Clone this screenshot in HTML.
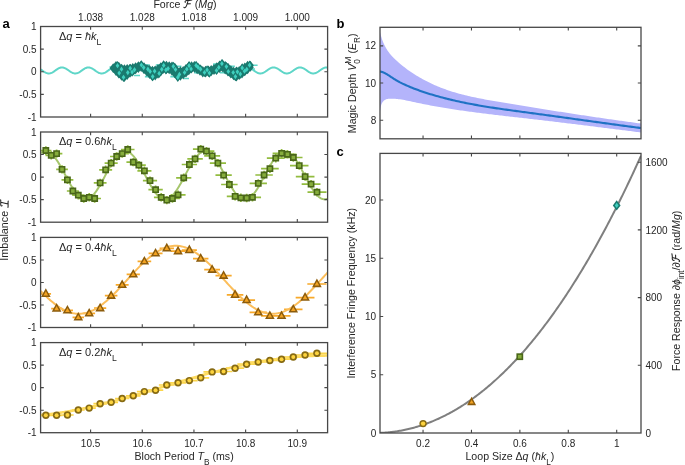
<!DOCTYPE html>
<html><head><meta charset="utf-8"><style>
html,body{margin:0;padding:0;background:#fff;}
body{width:685px;height:465px;overflow:hidden;}
svg{display:block;}
</style></head><body>
<svg width="685" height="465" viewBox="0 0 685 465" style="will-change:transform">
<defs><clipPath id="ca0"><rect x="40.6" y="26.5" width="287.0" height="90.5"/></clipPath><clipPath id="ca1"><rect x="40.6" y="132.0" width="287.0" height="90.19999999999999"/></clipPath><clipPath id="ca2"><rect x="40.6" y="237.4" width="287.0" height="90.1"/></clipPath><clipPath id="ca3"><rect x="40.6" y="342.6" width="287.0" height="90.09999999999997"/></clipPath><clipPath id="cb"><rect x="380.0" y="27.3" width="261.0" height="111.50000000000001"/></clipPath><clipPath id="cc"><rect x="380.0" y="153.4" width="261.0" height="279.6"/></clipPath></defs>
<rect width="685" height="465" fill="#fff"/>
<g clip-path="url(#ca0)"><path d="M40.60,69.35 L41.18,69.74 L41.75,70.14 L42.33,70.55 L42.90,70.96 L43.48,71.35 L44.05,71.74 L44.63,72.09 L45.20,72.42 L45.78,72.71 L46.35,72.96 L46.93,73.16 L47.50,73.31 L48.08,73.41 L48.65,73.45 L49.23,73.43 L49.80,73.37 L50.38,73.24 L50.95,73.07 L51.53,72.84 L52.10,72.57 L52.68,72.26 L53.25,71.92 L53.83,71.55 L54.40,71.16 L54.98,70.76 L55.55,70.35 L56.13,69.94 L56.70,69.54 L57.28,69.16 L57.85,68.81 L58.43,68.48 L59.00,68.19 L59.58,67.94 L60.16,67.74 L60.73,67.59 L61.31,67.49 L61.88,67.45 L62.46,67.47 L63.03,67.54 L63.61,67.66 L64.18,67.83 L64.76,68.06 L65.33,68.33 L65.91,68.64 L66.48,68.98 L67.06,69.35 L67.63,69.74 L68.21,70.14 L68.78,70.55 L69.36,70.96 L69.93,71.36 L70.51,71.74 L71.08,72.10 L71.66,72.42 L72.23,72.71 L72.81,72.96 L73.38,73.16 L73.96,73.31 L74.53,73.41 L75.11,73.45 L75.68,73.43 L76.26,73.36 L76.83,73.24 L77.41,73.06 L77.98,72.84 L78.56,72.57 L79.14,72.26 L79.71,71.92 L80.29,71.55 L80.86,71.16 L81.44,70.75 L82.01,70.34 L82.59,69.94 L83.16,69.54 L83.74,69.16 L84.31,68.80 L84.89,68.48 L85.46,68.19 L86.04,67.94 L86.61,67.74 L87.19,67.59 L87.76,67.49 L88.34,67.45 L88.91,67.47 L89.49,67.54 L90.06,67.66 L90.64,67.84 L91.21,68.06 L91.79,68.33 L92.36,68.64 L92.94,68.98 L93.51,69.35 L94.09,69.75 L94.66,70.15 L95.24,70.56 L95.81,70.97 L96.39,71.36 L96.96,71.74 L97.54,72.10 L98.12,72.43 L98.69,72.72 L99.27,72.96 L99.84,73.16 L100.42,73.31 L100.99,73.41 L101.57,73.45 L102.14,73.43 L102.72,73.36 L103.29,73.24 L103.87,73.06 L104.44,72.84 L105.02,72.57 L105.59,72.26 L106.17,71.91 L106.74,71.54 L107.32,71.15 L107.89,70.75 L108.47,70.34 L109.04,69.93 L109.62,69.53 L110.19,69.15 L110.77,68.80 L111.34,68.47 L111.92,68.18 L112.49,67.94 L113.07,67.74 L113.64,67.59 L114.22,67.49 L114.79,67.45 L115.37,67.47 L115.94,67.54 L116.52,67.66 L117.09,67.84 L117.67,68.07 L118.25,68.34 L118.82,68.65 L119.40,68.99 L119.97,69.36 L120.55,69.75 L121.12,70.15 L121.70,70.56 L122.27,70.97 L122.85,71.37 L123.42,71.75 L124.00,72.10 L124.57,72.43 L125.15,72.72 L125.72,72.96 L126.30,73.16 L126.87,73.31 L127.45,73.41 L128.02,73.45 L128.60,73.43 L129.17,73.36 L129.75,73.24 L130.32,73.06 L130.90,72.83 L131.47,72.56 L132.05,72.25 L132.62,71.91 L133.20,71.54 L133.77,71.15 L134.35,70.74 L134.92,70.33 L135.50,69.93 L136.07,69.53 L136.65,69.15 L137.23,68.79 L137.80,68.47 L138.38,68.18 L138.95,67.93 L139.53,67.73 L140.10,67.59 L140.68,67.49 L141.25,67.45 L141.83,67.47 L142.40,67.54 L142.98,67.66 L143.55,67.84 L144.13,68.07 L144.70,68.34 L145.28,68.65 L145.85,68.99 L146.43,69.36 L147.00,69.75 L147.58,70.16 L148.15,70.57 L148.73,70.98 L149.30,71.37 L149.88,71.75 L150.45,72.11 L151.03,72.43 L151.60,72.72 L152.18,72.97 L152.75,73.17 L153.33,73.31 L153.90,73.41 L154.48,73.45 L155.05,73.43 L155.63,73.36 L156.21,73.23 L156.78,73.06 L157.36,72.83 L157.93,72.56 L158.51,72.25 L159.08,71.90 L159.66,71.53 L160.23,71.14 L160.81,70.74 L161.38,70.33 L161.96,69.92 L162.53,69.53 L163.11,69.14 L163.68,68.79 L164.26,68.46 L164.83,68.18 L165.41,67.93 L165.98,67.73 L166.56,67.58 L167.13,67.49 L167.71,67.45 L168.28,67.47 L168.86,67.54 L169.43,67.67 L170.01,67.84 L170.58,68.07 L171.16,68.34 L171.73,68.65 L172.31,69.00 L172.88,69.37 L173.46,69.76 L174.03,70.16 L174.61,70.57 L175.19,70.98 L175.76,71.38 L176.34,71.76 L176.91,72.11 L177.49,72.44 L178.06,72.72 L178.64,72.97 L179.21,73.17 L179.79,73.32 L180.36,73.41 L180.94,73.45 L181.51,73.43 L182.09,73.36 L182.66,73.23 L183.24,73.05 L183.81,72.83 L184.39,72.56 L184.96,72.24 L185.54,71.90 L186.11,71.53 L186.69,71.14 L187.26,70.73 L187.84,70.32 L188.41,69.92 L188.99,69.52 L189.56,69.14 L190.14,68.79 L190.71,68.46 L191.29,68.17 L191.86,67.93 L192.44,67.73 L193.01,67.58 L193.59,67.49 L194.17,67.45 L194.74,67.47 L195.32,67.54 L195.89,67.67 L196.47,67.85 L197.04,68.07 L197.62,68.35 L198.19,68.66 L198.77,69.00 L199.34,69.37 L199.92,69.76 L200.49,70.17 L201.07,70.58 L201.64,70.98 L202.22,71.38 L202.79,71.76 L203.37,72.12 L203.94,72.44 L204.52,72.73 L205.09,72.97 L205.67,73.17 L206.24,73.32 L206.82,73.41 L207.39,73.45 L207.97,73.43 L208.54,73.36 L209.12,73.23 L209.69,73.05 L210.27,72.82 L210.84,72.55 L211.42,72.24 L211.99,71.90 L212.57,71.52 L213.15,71.13 L213.72,70.73 L214.30,70.32 L214.87,69.91 L215.45,69.52 L216.02,69.14 L216.60,68.78 L217.17,68.46 L217.75,68.17 L218.32,67.93 L218.90,67.73 L219.47,67.58 L220.05,67.49 L220.62,67.45 L221.20,67.47 L221.77,67.54 L222.35,67.67 L222.92,67.85 L223.50,68.08 L224.07,68.35 L224.65,68.66 L225.22,69.01 L225.80,69.38 L226.37,69.77 L226.95,70.17 L227.52,70.58 L228.10,70.99 L228.67,71.39 L229.25,71.77 L229.82,72.12 L230.40,72.44 L230.97,72.73 L231.55,72.98 L232.13,73.17 L232.70,73.32 L233.28,73.41 L233.85,73.45 L234.43,73.43 L235.00,73.36 L235.58,73.23 L236.15,73.05 L236.73,72.82 L237.30,72.55 L237.88,72.24 L238.45,71.89 L239.03,71.52 L239.60,71.13 L240.18,70.72 L240.75,70.31 L241.33,69.91 L241.90,69.51 L242.48,69.13 L243.05,68.78 L243.63,68.45 L244.20,68.17 L244.78,67.92 L245.35,67.73 L245.93,67.58 L246.50,67.49 L247.08,67.45 L247.65,67.47 L248.23,67.54 L248.80,67.67 L249.38,67.85 L249.95,68.08 L250.53,68.35 L251.11,68.67 L251.68,69.01 L252.26,69.38 L252.83,69.77 L253.41,70.18 L253.98,70.59 L254.56,70.99 L255.13,71.39 L255.71,71.77 L256.28,72.13 L256.86,72.45 L257.43,72.73 L258.01,72.98 L258.58,73.17 L259.16,73.32 L259.73,73.41 L260.31,73.45 L260.88,73.43 L261.46,73.36 L262.03,73.23 L262.61,73.05 L263.18,72.82 L263.76,72.54 L264.33,72.23 L264.91,71.89 L265.48,71.52 L266.06,71.12 L266.63,70.72 L267.21,70.31 L267.78,69.90 L268.36,69.51 L268.93,69.13 L269.51,68.77 L270.08,68.45 L270.66,68.16 L271.24,67.92 L271.81,67.72 L272.39,67.58 L272.96,67.49 L273.54,67.45 L274.11,67.47 L274.69,67.54 L275.26,67.67 L275.84,67.85 L276.41,68.08 L276.99,68.36 L277.56,68.67 L278.14,69.01 L278.71,69.39 L279.29,69.78 L279.86,70.18 L280.44,70.59 L281.01,71.00 L281.59,71.40 L282.16,71.77 L282.74,72.13 L283.31,72.45 L283.89,72.74 L284.46,72.98 L285.04,73.18 L285.61,73.32 L286.19,73.41 L286.76,73.45 L287.34,73.43 L287.91,73.35 L288.49,73.23 L289.06,73.04 L289.64,72.81 L290.22,72.54 L290.79,72.23 L291.37,71.88 L291.94,71.51 L292.52,71.12 L293.09,70.71 L293.67,70.30 L294.24,69.90 L294.82,69.50 L295.39,69.12 L295.97,68.77 L296.54,68.45 L297.12,68.16 L297.69,67.92 L298.27,67.72 L298.84,67.58 L299.42,67.49 L299.99,67.45 L300.57,67.47 L301.14,67.55 L301.72,67.68 L302.29,67.86 L302.87,68.09 L303.44,68.36 L304.02,68.67 L304.59,69.02 L305.17,69.39 L305.74,69.78 L306.32,70.19 L306.89,70.60 L307.47,71.00 L308.04,71.40 L308.62,71.78 L309.20,72.13 L309.77,72.46 L310.35,72.74 L310.92,72.98 L311.50,73.18 L312.07,73.32 L312.65,73.41 L313.22,73.45 L313.80,73.43 L314.37,73.35 L314.95,73.22 L315.52,73.04 L316.10,72.81 L316.67,72.54 L317.25,72.22 L317.82,71.88 L318.40,71.51 L318.97,71.11 L319.55,70.71 L320.12,70.30 L320.70,69.89 L321.27,69.50 L321.85,69.12 L322.42,68.76 L323.00,68.44 L323.57,68.16 L324.15,67.92 L324.72,67.72 L325.30,67.58 L325.87,67.49 L326.45,67.45 L327.02,67.47 L327.60,67.55" stroke="#5fd6c8" stroke-width="2" fill="none"/>
<path d="M143.90,65.00h6M155.80,65.00h6M144.90,76.60h6M170.30,76.60h6M175.50,66.30h6M213.10,64.10h6M194.10,72.80h6M228.90,66.30h6M219.80,72.80h6M251.60,65.20h6M249.00,69.00h6M109.50,67.00h6M134.00,75.50h6M183.00,78.50h6" stroke="#5fd6c8" stroke-width="1.6" fill="none"/>
<path d="M113.20,63.19L116.60,67.79L113.20,72.39L109.80,67.79ZM113.20,63.90L116.60,68.50L113.20,73.10L109.80,68.50ZM116.00,60.96L119.40,65.56L116.00,70.16L112.60,65.56ZM116.00,66.70L119.40,71.30L116.00,75.90L112.60,71.30ZM116.00,63.83L119.40,68.43L116.00,73.03L112.60,68.43ZM118.80,61.81L122.20,66.41L118.80,71.01L115.40,66.41ZM118.80,69.31L122.20,73.91L118.80,78.51L115.40,73.91ZM118.80,65.56L122.20,70.16L118.80,74.76L115.40,70.16ZM121.60,63.69L125.00,68.29L121.60,72.89L118.20,68.29ZM121.60,71.53L125.00,76.13L121.60,80.73L118.20,76.13ZM121.60,67.61L125.00,72.21L121.60,76.81L118.20,72.21ZM124.40,64.15L127.80,68.75L124.40,73.35L121.00,68.75ZM124.40,72.70L127.80,77.30L124.40,81.90L121.00,77.30ZM124.40,68.42L127.80,73.02L124.40,77.62L121.00,73.02ZM127.20,63.93L130.60,68.53L127.20,73.13L123.80,68.53ZM127.20,70.68L130.60,75.28L127.20,79.88L123.80,75.28ZM127.20,67.31L130.60,71.91L127.20,76.51L123.80,71.91ZM130.00,63.71L133.40,68.31L130.00,72.91L126.60,68.31ZM130.00,68.67L133.40,73.27L130.00,77.87L126.60,73.27ZM132.80,62.98L136.20,67.58L132.80,72.18L129.40,67.58ZM132.80,66.87L136.20,71.47L132.80,76.07L129.40,71.47ZM135.60,62.24L139.00,66.84L135.60,71.44L132.20,66.84ZM135.60,65.08L139.00,69.68L135.60,74.28L132.20,69.68ZM138.40,61.27L141.80,65.87L138.40,70.47L135.00,65.87ZM138.40,63.77L141.80,68.37L138.40,72.97L135.00,68.37ZM141.20,60.20L144.60,64.80L141.20,69.40L137.80,64.80ZM141.20,62.70L144.60,67.30L141.20,71.90L137.80,67.30ZM144.00,62.18L147.40,66.78L144.00,71.38L140.60,66.78ZM144.00,64.97L147.40,69.57L144.00,74.17L140.60,69.57ZM146.80,64.16L150.20,68.76L146.80,73.36L143.40,68.76ZM146.80,67.24L150.20,71.84L146.80,76.44L143.40,71.84ZM149.60,64.97L153.00,69.57L149.60,74.17L146.20,69.57ZM149.60,69.69L153.00,74.29L149.60,78.89L146.20,74.29ZM152.40,65.69L155.80,70.29L152.40,74.89L149.00,70.29ZM152.40,72.16L155.80,76.76L152.40,81.36L149.00,76.76ZM152.40,68.92L155.80,73.52L152.40,78.12L149.00,73.52ZM155.20,65.49L158.60,70.09L155.20,74.69L151.80,70.09ZM155.20,71.21L158.60,75.81L155.20,80.41L151.80,75.81ZM155.20,68.35L158.60,72.95L155.20,77.55L151.80,72.95ZM158.00,64.06L161.40,68.66L158.00,73.26L154.60,68.66ZM158.00,69.52L161.40,74.12L158.00,78.72L154.60,74.12ZM158.00,66.79L161.40,71.39L158.00,75.99L154.60,71.39ZM160.80,62.14L164.20,66.74L160.80,71.34L157.40,66.74ZM160.80,67.04L164.20,71.64L160.80,76.24L157.40,71.64ZM163.60,60.23L167.00,64.83L163.60,69.43L160.20,64.83ZM163.60,64.52L167.00,69.12L163.60,73.72L160.20,69.12ZM166.40,60.71L169.80,65.31L166.40,69.91L163.00,65.31ZM166.40,64.76L169.80,69.36L166.40,73.96L163.00,69.36ZM169.20,61.19L172.60,65.79L169.20,70.39L165.80,65.79ZM169.20,65.00L172.60,69.60L169.20,74.20L165.80,69.60ZM172.00,61.40L175.40,66.00L172.00,70.60L168.60,66.00ZM172.00,66.56L175.40,71.16L172.00,75.76L168.60,71.16ZM172.00,63.98L175.40,68.58L172.00,73.18L168.60,68.58ZM174.80,62.74L178.20,67.34L174.80,71.94L171.40,67.34ZM174.80,69.12L178.20,73.72L174.80,78.32L171.40,73.72ZM174.80,65.93L178.20,70.53L174.80,75.13L171.40,70.53ZM177.60,66.58L181.00,71.18L177.60,75.78L174.20,71.18ZM177.60,71.69L181.00,76.29L177.60,80.89L174.20,76.29ZM177.60,69.13L181.00,73.73L177.60,78.33L174.20,73.73ZM180.40,66.35L183.80,70.95L180.40,75.55L177.00,70.95ZM180.40,71.62L183.80,76.22L180.40,80.82L177.00,76.22ZM180.40,68.98L183.80,73.58L180.40,78.18L177.00,73.58ZM183.20,66.11L186.60,70.71L183.20,75.31L179.80,70.71ZM183.20,70.08L186.60,74.68L183.20,79.28L179.80,74.68ZM186.00,63.99L189.40,68.59L186.00,73.19L182.60,68.59ZM186.00,68.32L189.40,72.92L186.00,77.52L182.60,72.92ZM188.80,61.81L192.20,66.41L188.80,71.01L185.40,66.41ZM188.80,66.14L192.20,70.74L188.80,75.34L185.40,70.74ZM191.60,61.23L195.00,65.83L191.60,70.43L188.20,65.83ZM191.60,63.97L195.00,68.57L191.60,73.17L188.20,68.57ZM194.40,60.91L197.80,65.51L194.40,70.11L191.00,65.51ZM194.40,63.52L197.80,68.12L194.40,72.72L191.00,68.12ZM197.20,62.70L200.60,67.30L197.20,71.90L193.80,67.30ZM197.20,65.08L200.60,69.68L197.20,74.28L193.80,69.68ZM200.00,64.57L203.40,69.17L200.00,73.77L196.60,69.17ZM200.00,66.64L203.40,71.24L200.00,75.84L196.60,71.24ZM202.80,66.04L206.20,70.64L202.80,75.24L199.40,70.64ZM202.80,68.20L206.20,72.80L202.80,77.40L199.40,72.80ZM205.60,65.73L209.00,70.33L205.60,74.93L202.20,70.33ZM205.60,68.32L209.00,72.92L205.60,77.52L202.20,72.92ZM208.40,65.39L211.80,69.99L208.40,74.59L205.00,69.99ZM208.40,67.76L211.80,72.36L208.40,76.96L205.00,72.36ZM211.20,65.02L214.60,69.62L211.20,74.22L207.80,69.62ZM211.20,67.01L214.60,71.61L211.20,76.21L207.80,71.61ZM214.00,64.09L217.40,68.69L214.00,73.29L210.60,68.69ZM214.00,65.90L217.40,70.50L214.00,75.10L210.60,70.50ZM216.80,62.27L220.20,66.87L216.80,71.47L213.40,66.87ZM216.80,64.80L220.20,69.40L216.80,74.00L213.40,69.40ZM219.60,60.46L223.00,65.06L219.60,69.66L216.20,65.06ZM219.60,63.72L223.00,68.32L219.60,72.92L216.20,68.32ZM222.40,59.15L225.80,63.75L222.40,68.35L219.00,63.75ZM222.40,63.10L225.80,67.70L222.40,72.30L219.00,67.70ZM225.20,60.89L228.60,65.49L225.20,70.09L221.80,65.49ZM225.20,65.19L228.60,69.79L225.20,74.39L221.80,69.79ZM228.00,62.81L231.40,67.41L228.00,72.01L224.60,67.41ZM228.00,67.28L231.40,71.88L228.00,76.48L224.60,71.88ZM230.80,65.24L234.20,69.84L230.80,74.44L227.40,69.84ZM230.80,69.29L234.20,73.89L230.80,78.49L227.40,73.89ZM233.60,66.69L237.00,71.29L233.60,75.89L230.20,71.29ZM233.60,71.15L237.00,75.75L233.60,80.35L230.20,75.75ZM236.40,66.39L239.80,70.99L236.40,75.59L233.00,70.99ZM236.40,72.28L239.80,76.88L236.40,81.48L233.00,76.88ZM236.40,69.34L239.80,73.94L236.40,78.54L233.00,73.94ZM239.20,66.04L242.60,70.64L239.20,75.24L235.80,70.64ZM239.20,70.79L242.60,75.39L239.20,79.99L235.80,75.39ZM242.00,64.30L245.40,68.90L242.00,73.50L238.60,68.90ZM242.00,69.25L245.40,73.85L242.00,78.45L238.60,73.85ZM244.80,62.57L248.20,67.17L244.80,71.77L241.40,67.17ZM244.80,67.09L248.20,71.69L244.80,76.29L241.40,71.69ZM247.60,60.84L251.00,65.44L247.60,70.04L244.20,65.44ZM247.60,64.94L251.00,69.54L247.60,74.14L244.20,69.54ZM250.40,60.72L253.80,65.32L250.40,69.92L247.00,65.32ZM250.40,62.62L253.80,67.22L250.40,71.82L247.00,67.22Z" fill="#1a7a6f"/>
<path d="M117.50,61.10L120.90,65.70L117.50,70.30L114.10,65.70ZM119.20,68.50L122.60,73.10L119.20,77.70L115.80,73.10ZM121.50,64.60L124.90,69.20L121.50,73.80L118.10,69.20ZM123.50,72.70L126.90,77.30L123.50,81.90L120.10,77.30ZM127.80,68.00L131.20,72.60L127.80,77.20L124.40,72.60ZM130.20,63.70L133.60,68.30L130.20,72.90L126.80,68.30ZM132.10,67.50L135.50,72.10L132.10,76.70L128.70,72.10ZM134.50,65.10L137.90,69.70L134.50,74.30L131.10,69.70ZM141.40,60.40L144.80,65.00L141.40,69.60L138.00,65.00ZM143.70,63.00L147.10,67.60L143.70,72.20L140.30,67.60ZM147.90,64.60L151.30,69.20L147.90,73.80L144.50,69.20ZM150.10,66.90L153.50,71.50L150.10,76.10L146.70,71.50ZM152.70,72.00L156.10,76.60L152.70,81.20L149.30,76.60ZM154.60,66.60L158.00,71.20L154.60,75.80L151.20,71.20ZM159.20,68.80L162.60,73.40L159.20,78.00L155.80,73.40ZM161.80,64.70L165.20,69.30L161.80,73.90L158.40,69.30ZM163.70,60.80L167.10,65.40L163.70,70.00L160.30,65.40ZM165.90,65.30L169.30,69.90L165.90,74.50L162.50,69.90ZM168.10,64.00L171.50,68.60L168.10,73.20L164.70,68.60ZM173.30,61.70L176.70,66.30L173.30,70.90L169.90,66.30ZM175.50,64.90L178.90,69.50L175.50,74.10L172.10,69.50ZM177.80,72.70L181.20,77.30L177.80,81.90L174.40,77.30ZM179.40,69.80L182.80,74.40L179.40,79.00L176.00,74.40ZM184.60,67.90L188.00,72.50L184.60,77.10L181.20,72.50ZM186.80,64.60L190.20,69.20L186.80,73.80L183.40,69.20ZM189.10,61.10L192.50,65.70L189.10,70.30L185.70,65.70ZM191.10,64.40L194.50,69.00L191.10,73.60L187.70,69.00ZM196.10,60.80L199.50,65.40L196.10,70.00L192.70,65.40ZM198.10,62.70L201.50,67.30L198.10,71.90L194.70,67.30ZM200.60,64.60L204.00,69.20L200.60,73.80L197.20,69.20ZM204.50,67.90L207.90,72.50L204.50,77.10L201.10,72.50ZM207.10,65.30L210.50,69.90L207.10,74.50L203.70,69.90ZM209.40,68.50L212.80,73.10L209.40,77.70L206.00,73.10ZM216.50,65.90L219.90,70.50L216.50,75.10L213.10,70.50ZM218.80,62.80L222.20,67.40L218.80,72.00L215.40,67.40ZM221.90,59.10L225.30,63.70L221.90,68.30L218.50,63.70ZM226.40,62.00L229.80,66.60L226.40,71.20L223.00,66.60ZM228.30,66.90L231.70,71.50L228.30,76.10L224.90,71.50ZM233.20,67.90L236.60,72.50L233.20,77.10L229.80,72.50ZM235.40,72.00L238.80,76.60L235.40,81.20L232.00,76.60ZM237.40,67.20L240.80,71.80L237.40,76.40L234.00,71.80ZM240.30,69.50L243.70,74.10L240.30,78.70L236.90,74.10ZM242.20,63.30L245.60,67.90L242.20,72.50L238.80,67.90ZM244.50,66.60L247.90,71.20L244.50,75.80L241.10,71.20ZM246.80,64.70L250.20,69.30L246.80,73.90L243.40,69.30ZM249.60,60.60L253.00,65.20L249.60,69.80L246.20,65.20Z" fill="#1a7a6f"/>
<path d="M117.50,63.10L119.30,65.70L117.50,68.30L115.70,65.70ZM119.20,70.50L121.00,73.10L119.20,75.70L117.40,73.10ZM121.50,66.60L123.30,69.20L121.50,71.80L119.70,69.20ZM123.50,74.70L125.30,77.30L123.50,79.90L121.70,77.30ZM127.80,70.00L129.60,72.60L127.80,75.20L126.00,72.60ZM130.20,65.70L132.00,68.30L130.20,70.90L128.40,68.30ZM132.10,69.50L133.90,72.10L132.10,74.70L130.30,72.10ZM134.50,67.10L136.30,69.70L134.50,72.30L132.70,69.70ZM141.40,62.40L143.20,65.00L141.40,67.60L139.60,65.00ZM143.70,65.00L145.50,67.60L143.70,70.20L141.90,67.60ZM147.90,66.60L149.70,69.20L147.90,71.80L146.10,69.20ZM150.10,68.90L151.90,71.50L150.10,74.10L148.30,71.50ZM152.70,74.00L154.50,76.60L152.70,79.20L150.90,76.60ZM154.60,68.60L156.40,71.20L154.60,73.80L152.80,71.20ZM159.20,70.80L161.00,73.40L159.20,76.00L157.40,73.40ZM161.80,66.70L163.60,69.30L161.80,71.90L160.00,69.30ZM163.70,62.80L165.50,65.40L163.70,68.00L161.90,65.40ZM165.90,67.30L167.70,69.90L165.90,72.50L164.10,69.90ZM168.10,66.00L169.90,68.60L168.10,71.20L166.30,68.60ZM173.30,63.70L175.10,66.30L173.30,68.90L171.50,66.30ZM175.50,66.90L177.30,69.50L175.50,72.10L173.70,69.50ZM177.80,74.70L179.60,77.30L177.80,79.90L176.00,77.30ZM179.40,71.80L181.20,74.40L179.40,77.00L177.60,74.40ZM184.60,69.90L186.40,72.50L184.60,75.10L182.80,72.50ZM186.80,66.60L188.60,69.20L186.80,71.80L185.00,69.20ZM189.10,63.10L190.90,65.70L189.10,68.30L187.30,65.70ZM191.10,66.40L192.90,69.00L191.10,71.60L189.30,69.00ZM196.10,62.80L197.90,65.40L196.10,68.00L194.30,65.40ZM198.10,64.70L199.90,67.30L198.10,69.90L196.30,67.30ZM200.60,66.60L202.40,69.20L200.60,71.80L198.80,69.20ZM204.50,69.90L206.30,72.50L204.50,75.10L202.70,72.50ZM207.10,67.30L208.90,69.90L207.10,72.50L205.30,69.90ZM209.40,70.50L211.20,73.10L209.40,75.70L207.60,73.10ZM216.50,67.90L218.30,70.50L216.50,73.10L214.70,70.50ZM218.80,64.80L220.60,67.40L218.80,70.00L217.00,67.40ZM221.90,61.10L223.70,63.70L221.90,66.30L220.10,63.70ZM226.40,64.00L228.20,66.60L226.40,69.20L224.60,66.60ZM228.30,68.90L230.10,71.50L228.30,74.10L226.50,71.50ZM233.20,69.90L235.00,72.50L233.20,75.10L231.40,72.50ZM235.40,74.00L237.20,76.60L235.40,79.20L233.60,76.60ZM237.40,69.20L239.20,71.80L237.40,74.40L235.60,71.80ZM240.30,71.50L242.10,74.10L240.30,76.70L238.50,74.10ZM242.20,65.30L244.00,67.90L242.20,70.50L240.40,67.90ZM244.50,68.60L246.30,71.20L244.50,73.80L242.70,71.20ZM246.80,66.70L248.60,69.30L246.80,71.90L245.00,69.30ZM249.60,62.60L251.40,65.20L249.60,67.80L247.80,65.20Z" fill="#3fd0bf"/>
</g>
<g clip-path="url(#ca1)">
<path d="M40.22,150.50h11.22M45.83,146.30v8.40M45.53,155.40h11.38M51.22,151.20v8.40M50.84,153.60h11.53M56.61,149.40v8.40M56.17,169.40h11.69M62.02,165.20v8.40M61.51,179.90h11.84M67.43,175.70v8.40M66.86,191.00h12.00M72.86,186.80v8.40M72.22,195.20h12.15M78.30,191.00v8.40M77.59,198.50h12.31M83.75,194.30v8.40M82.97,197.30h12.47M89.21,193.10v8.40M88.36,198.50h12.62M94.68,194.30v8.40M93.77,182.90h12.78M100.16,178.70v8.40M99.18,169.80h12.94M105.65,165.60v8.40M104.61,163.10h13.10M111.16,158.90v8.40M110.04,156.50h13.26M116.67,152.30v8.40M115.49,153.60h13.41M122.20,149.40v8.40M120.95,149.50h13.57M127.73,145.30v8.40M126.42,162.10h13.73M133.28,157.90v8.40M131.90,165.20h13.89M138.84,161.00v8.40M137.39,170.80h14.05M144.41,166.60v8.40M142.89,180.60h14.21M150.00,176.40v8.40M148.41,189.70h14.37M155.59,185.50v8.40M153.93,197.30h14.53M161.20,193.10v8.40M159.47,200.10h14.69M166.81,195.90v8.40M165.01,198.50h14.85M172.44,194.30v8.40M170.57,194.80h15.02M178.08,190.60v8.40M176.14,177.80h15.18M183.73,173.60v8.40M181.73,164.50h15.34M189.40,160.30v8.40M187.32,158.90h15.50M195.07,154.70v8.40M192.92,149.10h15.67M200.76,144.90v8.40M198.54,151.20h15.83M206.46,147.00v8.40M204.17,155.80h15.99M212.17,151.60v8.40M209.81,163.10h16.16M217.89,158.90v8.40M215.46,175.20h16.32M223.62,171.00v8.40M221.12,184.50h16.49M229.37,180.30v8.40M226.80,196.40h16.65M235.12,192.20v8.40M232.48,197.80h16.82M240.89,193.60v8.40M238.18,198.00h16.98M246.67,193.80v8.40M243.89,197.30h17.15M252.47,193.10v8.40M249.61,183.40h17.32M258.27,179.20v8.40M255.35,175.00h17.48M264.09,170.80v8.40M261.09,168.70h17.65M269.92,164.50v8.40M266.85,158.20h17.82M275.76,154.00v8.40M272.62,153.30h17.99M281.61,149.10v8.40M278.40,154.30h18.15M287.48,150.10v8.40M284.20,157.50h18.32M293.36,153.30v8.40M290.00,165.60h18.49M299.25,161.40v8.40M295.82,176.60h18.66M305.15,172.40v8.40M301.65,184.10h18.83M311.07,179.90v8.40M307.50,192.20h19.00M316.99,188.00v8.40" stroke="#92bc3f" stroke-width="1.7" fill="none"/>
<path d="M40.60,153.06 L41.56,152.44 L42.52,151.95 L43.48,151.59 L44.44,151.37 L45.40,151.28 L46.36,151.34 L47.32,151.52 L48.28,151.85 L49.24,152.31 L50.20,152.90 L51.16,153.62 L52.12,154.46 L53.08,155.43 L54.04,156.50 L55.00,157.69 L55.96,158.97 L56.92,160.35 L57.88,161.81 L58.84,163.35 L59.80,164.96 L60.76,166.63 L61.72,168.35 L62.68,170.11 L63.64,171.90 L64.60,173.70 L65.56,175.52 L66.52,177.34 L67.48,179.14 L68.44,180.92 L69.40,182.67 L70.36,184.38 L71.32,186.04 L72.28,187.63 L73.24,189.16 L74.20,190.61 L75.16,191.96 L76.12,193.23 L77.07,194.39 L78.03,195.44 L78.99,196.38 L79.95,197.20 L80.91,197.89 L81.87,198.45 L82.83,198.88 L83.79,199.18 L84.75,199.34 L85.71,199.36 L86.67,199.25 L87.63,198.99 L88.59,198.61 L89.55,198.09 L90.51,197.44 L91.47,196.66 L92.43,195.76 L93.39,194.75 L94.35,193.62 L95.31,192.39 L96.27,191.06 L97.23,189.65 L98.19,188.15 L99.15,186.57 L100.11,184.93 L101.07,183.24 L102.03,181.50 L102.99,179.73 L103.95,177.93 L104.91,176.12 L105.87,174.30 L106.83,172.49 L107.79,170.70 L108.75,168.93 L109.71,167.19 L110.67,165.51 L111.63,163.88 L112.59,162.31 L113.55,160.82 L114.51,159.42 L115.47,158.10 L116.43,156.88 L117.39,155.77 L118.35,154.77 L119.31,153.88 L120.27,153.12 L121.23,152.49 L122.19,151.99 L123.15,151.62 L124.11,151.38 L125.07,151.29 L126.03,151.32 L126.99,151.50 L127.95,151.82 L128.91,152.26 L129.87,152.84 L130.83,153.55 L131.79,154.38 L132.75,155.33 L133.71,156.40 L134.67,157.58 L135.63,158.85 L136.59,160.22 L137.55,161.68 L138.51,163.21 L139.47,164.82 L140.43,166.48 L141.39,168.19 L142.35,169.95 L143.31,171.74 L144.27,173.54 L145.23,175.36 L146.19,177.17 L147.15,178.98 L148.11,180.77 L149.06,182.52 L150.02,184.23 L150.98,185.89 L151.94,187.49 L152.90,189.03 L153.86,190.48 L154.82,191.85 L155.78,193.12 L156.74,194.29 L157.70,195.35 L158.66,196.30 L159.62,197.13 L160.58,197.83 L161.54,198.41 L162.50,198.85 L163.46,199.16 L164.42,199.33 L165.38,199.36 L166.34,199.26 L167.30,199.02 L168.26,198.65 L169.22,198.14 L170.18,197.50 L171.14,196.74 L172.10,195.85 L173.06,194.84 L174.02,193.73 L174.98,192.51 L175.94,191.19 L176.90,189.78 L177.86,188.28 L178.82,186.72 L179.78,185.08 L180.74,183.40 L181.70,181.66 L182.66,179.89 L183.62,178.09 L184.58,176.28 L185.54,174.46 L186.50,172.65 L187.46,170.85 L188.42,169.08 L189.38,167.35 L190.34,165.65 L191.30,164.02 L192.26,162.45 L193.22,160.95 L194.18,159.54 L195.14,158.21 L196.10,156.98 L197.06,155.86 L198.02,154.85 L198.98,153.96 L199.94,153.19 L200.90,152.54 L201.86,152.03 L202.82,151.64 L203.78,151.40 L204.74,151.29 L205.70,151.32 L206.66,151.48 L207.62,151.78 L208.58,152.22 L209.54,152.79 L210.50,153.48 L211.46,154.30 L212.42,155.25 L213.38,156.30 L214.34,157.47 L215.30,158.73 L216.26,160.10 L217.22,161.55 L218.18,163.07 L219.14,164.67 L220.09,166.33 L221.05,168.04 L222.01,169.79 L222.97,171.58 L223.93,173.38 L224.89,175.20 L225.85,177.01 L226.81,178.82 L227.77,180.61 L228.73,182.36 L229.69,184.08 L230.65,185.75 L231.61,187.36 L232.57,188.89 L233.53,190.35 L234.49,191.73 L235.45,193.01 L236.41,194.19 L237.37,195.26 L238.33,196.22 L239.29,197.06 L240.25,197.77 L241.21,198.36 L242.17,198.82 L243.13,199.14 L244.09,199.32 L245.05,199.37 L246.01,199.28 L246.97,199.05 L247.93,198.69 L248.89,198.19 L249.85,197.56 L250.81,196.81 L251.77,195.93 L252.73,194.94 L253.69,193.83 L254.65,192.62 L255.61,191.31 L256.57,189.90 L257.53,188.42 L258.49,186.86 L259.45,185.23 L260.41,183.55 L261.37,181.82 L262.33,180.05 L263.29,178.25 L264.25,176.44 L265.21,174.63 L266.17,172.81 L267.13,171.01 L268.09,169.24 L269.05,167.50 L270.01,165.80 L270.97,164.16 L271.93,162.59 L272.89,161.08 L273.85,159.66 L274.81,158.33 L275.77,157.09 L276.73,155.96 L277.69,154.94 L278.65,154.03 L279.61,153.25 L280.57,152.59 L281.53,152.07 L282.49,151.67 L283.45,151.41 L284.41,151.29 L285.37,151.31 L286.33,151.46 L287.29,151.75 L288.25,152.17 L289.21,152.73 L290.17,153.42 L291.13,154.23 L292.08,155.16 L293.04,156.20 L294.00,157.36 L294.96,158.62 L295.92,159.97 L296.88,161.41 L297.84,162.93 L298.80,164.53 L299.76,166.18 L300.72,167.89 L301.68,169.63 L302.64,171.42 L303.60,173.22 L304.56,175.03 L305.52,176.85 L306.48,178.66 L307.44,180.45 L308.40,182.21 L309.36,183.93 L310.32,185.60 L311.28,187.21 L312.24,188.76 L313.20,190.23 L314.16,191.61 L315.12,192.90 L316.08,194.09 L317.04,195.17 L318.00,196.14 L318.96,196.99 L319.92,197.72 L320.88,198.31 L321.84,198.78 L322.80,199.11 L323.76,199.31 L324.72,199.37 L325.68,199.29 L326.64,199.08 L327.60,198.72" stroke="#a6c66c" stroke-width="2" fill="none"/>
<path d="M42.43,147.10h6.8v6.8h-6.8ZM47.82,152.00h6.8v6.8h-6.8ZM53.21,150.20h6.8v6.8h-6.8ZM58.62,166.00h6.8v6.8h-6.8ZM64.03,176.50h6.8v6.8h-6.8ZM69.46,187.60h6.8v6.8h-6.8ZM74.90,191.80h6.8v6.8h-6.8ZM80.35,195.10h6.8v6.8h-6.8ZM85.81,193.90h6.8v6.8h-6.8ZM91.28,195.10h6.8v6.8h-6.8ZM96.76,179.50h6.8v6.8h-6.8ZM102.25,166.40h6.8v6.8h-6.8ZM107.76,159.70h6.8v6.8h-6.8ZM113.27,153.10h6.8v6.8h-6.8ZM118.80,150.20h6.8v6.8h-6.8ZM124.33,146.10h6.8v6.8h-6.8ZM129.88,158.70h6.8v6.8h-6.8ZM135.44,161.80h6.8v6.8h-6.8ZM141.01,167.40h6.8v6.8h-6.8ZM146.60,177.20h6.8v6.8h-6.8ZM152.19,186.30h6.8v6.8h-6.8ZM157.80,193.90h6.8v6.8h-6.8ZM163.41,196.70h6.8v6.8h-6.8ZM169.04,195.10h6.8v6.8h-6.8ZM174.68,191.40h6.8v6.8h-6.8ZM180.33,174.40h6.8v6.8h-6.8ZM186.00,161.10h6.8v6.8h-6.8ZM191.67,155.50h6.8v6.8h-6.8ZM197.36,145.70h6.8v6.8h-6.8ZM203.06,147.80h6.8v6.8h-6.8ZM208.77,152.40h6.8v6.8h-6.8ZM214.49,159.70h6.8v6.8h-6.8ZM220.22,171.80h6.8v6.8h-6.8ZM225.97,181.10h6.8v6.8h-6.8ZM231.72,193.00h6.8v6.8h-6.8ZM237.49,194.40h6.8v6.8h-6.8ZM243.27,194.60h6.8v6.8h-6.8ZM249.07,193.90h6.8v6.8h-6.8ZM254.87,180.00h6.8v6.8h-6.8ZM260.69,171.60h6.8v6.8h-6.8ZM266.52,165.30h6.8v6.8h-6.8ZM272.36,154.80h6.8v6.8h-6.8ZM278.21,149.90h6.8v6.8h-6.8ZM284.08,150.90h6.8v6.8h-6.8ZM289.96,154.10h6.8v6.8h-6.8ZM295.85,162.20h6.8v6.8h-6.8ZM301.75,173.20h6.8v6.8h-6.8ZM307.67,180.70h6.8v6.8h-6.8ZM313.59,188.80h6.8v6.8h-6.8Z" fill="#4a6719"/>
<path d="M44.03,148.70h3.6v3.6h-3.6ZM49.42,153.60h3.6v3.6h-3.6ZM54.81,151.80h3.6v3.6h-3.6ZM60.22,167.60h3.6v3.6h-3.6ZM65.63,178.10h3.6v3.6h-3.6ZM71.06,189.20h3.6v3.6h-3.6ZM76.50,193.40h3.6v3.6h-3.6ZM81.95,196.70h3.6v3.6h-3.6ZM87.41,195.50h3.6v3.6h-3.6ZM92.88,196.70h3.6v3.6h-3.6ZM98.36,181.10h3.6v3.6h-3.6ZM103.85,168.00h3.6v3.6h-3.6ZM109.36,161.30h3.6v3.6h-3.6ZM114.87,154.70h3.6v3.6h-3.6ZM120.40,151.80h3.6v3.6h-3.6ZM125.93,147.70h3.6v3.6h-3.6ZM131.48,160.30h3.6v3.6h-3.6ZM137.04,163.40h3.6v3.6h-3.6ZM142.61,169.00h3.6v3.6h-3.6ZM148.20,178.80h3.6v3.6h-3.6ZM153.79,187.90h3.6v3.6h-3.6ZM159.40,195.50h3.6v3.6h-3.6ZM165.01,198.30h3.6v3.6h-3.6ZM170.64,196.70h3.6v3.6h-3.6ZM176.28,193.00h3.6v3.6h-3.6ZM181.93,176.00h3.6v3.6h-3.6ZM187.60,162.70h3.6v3.6h-3.6ZM193.27,157.10h3.6v3.6h-3.6ZM198.96,147.30h3.6v3.6h-3.6ZM204.66,149.40h3.6v3.6h-3.6ZM210.37,154.00h3.6v3.6h-3.6ZM216.09,161.30h3.6v3.6h-3.6ZM221.82,173.40h3.6v3.6h-3.6ZM227.57,182.70h3.6v3.6h-3.6ZM233.32,194.60h3.6v3.6h-3.6ZM239.09,196.00h3.6v3.6h-3.6ZM244.87,196.20h3.6v3.6h-3.6ZM250.67,195.50h3.6v3.6h-3.6ZM256.47,181.60h3.6v3.6h-3.6ZM262.29,173.20h3.6v3.6h-3.6ZM268.12,166.90h3.6v3.6h-3.6ZM273.96,156.40h3.6v3.6h-3.6ZM279.81,151.50h3.6v3.6h-3.6ZM285.68,152.50h3.6v3.6h-3.6ZM291.56,155.70h3.6v3.6h-3.6ZM297.45,163.80h3.6v3.6h-3.6ZM303.35,174.80h3.6v3.6h-3.6ZM309.27,182.30h3.6v3.6h-3.6ZM315.19,190.40h3.6v3.6h-3.6Z" fill="#86ad3c"/>
</g>
<g clip-path="url(#ca2)">
<path d="M40.62,293.80h10.43M45.83,291.60v4.40M51.22,308.60h10.78M56.61,306.40v4.40M61.86,310.40h11.13M67.43,308.20v4.40M72.55,317.40h11.48M78.29,315.20v4.40M83.28,313.40h11.83M89.19,311.20v4.40M94.05,308.20h12.18M100.14,306.00v4.40M104.87,295.70h12.54M111.14,293.50v4.40M115.73,284.90h12.90M122.17,282.70v4.40M126.63,274.40h13.26M133.26,272.20v4.40M137.58,261.40h13.62M144.38,259.20v4.40M148.57,253.40h13.98M155.56,251.20v4.40M159.61,248.30h14.34M166.78,246.10v4.40M170.69,251.20h14.70M178.04,249.00v4.40M181.82,250.10h15.07M189.35,247.90v4.40M192.99,258.60h15.44M200.71,256.40v4.40M204.21,269.70h15.81M212.12,267.50v4.40M215.48,275.70h16.18M223.57,273.50v4.40M226.79,294.80h16.55M235.07,292.60v4.40M238.15,300.10h16.92M246.61,297.90v4.40M249.56,312.40h17.30M258.21,310.20v4.40M261.01,315.90h17.67M269.85,313.70v4.40M272.52,315.90h18.05M281.54,313.70v4.40M284.07,309.40h18.43M293.28,307.20v4.40M295.67,297.60h18.81M305.07,295.40v4.40M307.31,284.00h19.20M316.91,281.80v4.40" stroke="#f8a92a" stroke-width="1.7" fill="none"/>
<path d="M40.60,290.84 L41.56,291.84 L42.52,292.82 L43.48,293.79 L44.44,294.75 L45.40,295.69 L46.36,296.62 L47.32,297.53 L48.28,298.42 L49.24,299.30 L50.20,300.15 L51.16,300.99 L52.12,301.81 L53.08,302.60 L54.04,303.37 L55.00,304.12 L55.96,304.85 L56.92,305.55 L57.88,306.23 L58.84,306.88 L59.80,307.51 L60.76,308.10 L61.72,308.67 L62.68,309.22 L63.64,309.73 L64.60,310.22 L65.56,310.67 L66.52,311.10 L67.48,311.49 L68.44,311.86 L69.40,312.19 L70.36,312.49 L71.32,312.76 L72.28,313.00 L73.24,313.21 L74.20,313.38 L75.16,313.52 L76.12,313.63 L77.07,313.71 L78.03,313.75 L78.99,313.76 L79.95,313.74 L80.91,313.68 L81.87,313.59 L82.83,313.47 L83.79,313.32 L84.75,313.13 L85.71,312.91 L86.67,312.66 L87.63,312.38 L88.59,312.06 L89.55,311.72 L90.51,311.34 L91.47,310.93 L92.43,310.49 L93.39,310.03 L94.35,309.53 L95.31,309.00 L96.27,308.45 L97.23,307.87 L98.19,307.26 L99.15,306.62 L100.11,305.96 L101.07,305.28 L102.03,304.56 L102.99,303.83 L103.95,303.07 L104.91,302.29 L105.87,301.48 L106.83,300.66 L107.79,299.81 L108.75,298.95 L109.71,298.07 L110.67,297.17 L111.63,296.25 L112.59,295.32 L113.55,294.37 L114.51,293.41 L115.47,292.43 L116.43,291.44 L117.39,290.44 L118.35,289.43 L119.31,288.41 L120.27,287.39 L121.23,286.35 L122.19,285.31 L123.15,284.26 L124.11,283.21 L125.07,282.16 L126.03,281.10 L126.99,280.04 L127.95,278.99 L128.91,277.93 L129.87,276.87 L130.83,275.82 L131.79,274.77 L132.75,273.73 L133.71,272.69 L134.67,271.66 L135.63,270.63 L136.59,269.62 L137.55,268.62 L138.51,267.62 L139.47,266.64 L140.43,265.67 L141.39,264.71 L142.35,263.77 L143.31,262.85 L144.27,261.94 L145.23,261.05 L146.19,260.17 L147.15,259.32 L148.11,258.48 L149.06,257.67 L150.02,256.87 L150.98,256.10 L151.94,255.35 L152.90,254.63 L153.86,253.93 L154.82,253.25 L155.78,252.61 L156.74,251.98 L157.70,251.39 L158.66,250.82 L159.62,250.28 L160.58,249.77 L161.54,249.28 L162.50,248.83 L163.46,248.41 L164.42,248.01 L165.38,247.65 L166.34,247.32 L167.30,247.02 L168.26,246.75 L169.22,246.52 L170.18,246.31 L171.14,246.14 L172.10,246.00 L173.06,245.90 L174.02,245.82 L174.98,245.78 L175.94,245.78 L176.90,245.80 L177.86,245.86 L178.82,245.95 L179.78,246.08 L180.74,246.23 L181.70,246.42 L182.66,246.64 L183.62,246.90 L184.58,247.18 L185.54,247.50 L186.50,247.85 L187.46,248.23 L188.42,248.64 L189.38,249.08 L190.34,249.55 L191.30,250.05 L192.26,250.57 L193.22,251.13 L194.18,251.71 L195.14,252.32 L196.10,252.96 L197.06,253.63 L198.02,254.32 L198.98,255.03 L199.94,255.77 L200.90,256.53 L201.86,257.31 L202.82,258.12 L203.78,258.94 L204.74,259.79 L205.70,260.65 L206.66,261.54 L207.62,262.44 L208.58,263.36 L209.54,264.29 L210.50,265.24 L211.46,266.21 L212.42,267.18 L213.38,268.17 L214.34,269.17 L215.30,270.18 L216.26,271.20 L217.22,272.23 L218.18,273.26 L219.14,274.31 L220.09,275.35 L221.05,276.40 L222.01,277.46 L222.97,278.52 L223.93,279.57 L224.89,280.63 L225.85,281.69 L226.81,282.74 L227.77,283.80 L228.73,284.85 L229.69,285.89 L230.65,286.93 L231.61,287.96 L232.57,288.98 L233.53,289.99 L234.49,291.00 L235.45,291.99 L236.41,292.97 L237.37,293.94 L238.33,294.90 L239.29,295.84 L240.25,296.76 L241.21,297.67 L242.17,298.56 L243.13,299.43 L244.09,300.29 L245.05,301.12 L246.01,301.93 L246.97,302.72 L247.93,303.49 L248.89,304.24 L249.85,304.96 L250.81,305.66 L251.77,306.33 L252.73,306.98 L253.69,307.60 L254.65,308.19 L255.61,308.76 L256.57,309.30 L257.53,309.81 L258.49,310.29 L259.45,310.74 L260.41,311.16 L261.37,311.55 L262.33,311.91 L263.29,312.24 L264.25,312.54 L265.21,312.80 L266.17,313.04 L267.13,313.24 L268.09,313.41 L269.05,313.54 L270.01,313.65 L270.97,313.72 L271.93,313.75 L272.89,313.76 L273.85,313.73 L274.81,313.67 L275.77,313.58 L276.73,313.45 L277.69,313.29 L278.65,313.10 L279.61,312.87 L280.57,312.62 L281.53,312.33 L282.49,312.01 L283.45,311.66 L284.41,311.28 L285.37,310.87 L286.33,310.42 L287.29,309.95 L288.25,309.45 L289.21,308.92 L290.17,308.36 L291.13,307.78 L292.08,307.16 L293.04,306.52 L294.00,305.86 L294.96,305.17 L295.92,304.45 L296.88,303.71 L297.84,302.95 L298.80,302.16 L299.76,301.36 L300.72,300.53 L301.68,299.68 L302.64,298.81 L303.60,297.93 L304.56,297.03 L305.52,296.11 L306.48,295.17 L307.44,294.22 L308.40,293.25 L309.36,292.28 L310.32,291.29 L311.28,290.29 L312.24,289.27 L313.20,288.25 L314.16,287.23 L315.12,286.19 L316.08,285.15 L317.04,284.10 L318.00,283.05 L318.96,281.99 L319.92,280.94 L320.88,279.88 L321.84,278.82 L322.80,277.76 L323.76,276.71 L324.72,275.66 L325.68,274.61 L326.64,273.57 L327.60,272.53" stroke="#fcbe5a" stroke-width="2" fill="none"/>
<path d="M45.83,288.30L50.63,297.00L41.03,297.00ZM56.61,303.10L61.41,311.80L51.81,311.80ZM67.43,304.90L72.23,313.60L62.63,313.60ZM78.29,311.90L83.09,320.60L73.49,320.60ZM89.19,307.90L93.99,316.60L84.39,316.60ZM100.14,302.70L104.94,311.40L95.34,311.40ZM111.14,290.20L115.94,298.90L106.34,298.90ZM122.17,279.40L126.97,288.10L117.37,288.10ZM133.26,268.90L138.06,277.60L128.46,277.60ZM144.38,255.90L149.18,264.60L139.58,264.60ZM155.56,247.90L160.36,256.60L150.76,256.60ZM166.78,242.80L171.58,251.50L161.98,251.50ZM178.04,245.70L182.84,254.40L173.24,254.40ZM189.35,244.60L194.15,253.30L184.55,253.30ZM200.71,253.10L205.51,261.80L195.91,261.80ZM212.12,264.20L216.92,272.90L207.32,272.90ZM223.57,270.20L228.37,278.90L218.77,278.90ZM235.07,289.30L239.87,298.00L230.27,298.00ZM246.61,294.60L251.41,303.30L241.81,303.30ZM258.21,306.90L263.01,315.60L253.41,315.60ZM269.85,310.40L274.65,319.10L265.05,319.10ZM281.54,310.40L286.34,319.10L276.74,319.10ZM293.28,303.90L298.08,312.60L288.48,312.60ZM305.07,292.10L309.87,300.80L300.27,300.80ZM316.91,278.50L321.71,287.20L312.11,287.20Z" fill="#8c5c0c"/>
<path d="M45.83,291.30L48.13,295.40L43.53,295.40ZM56.61,306.10L58.91,310.20L54.31,310.20ZM67.43,307.90L69.73,312.00L65.13,312.00ZM78.29,314.90L80.59,319.00L75.99,319.00ZM89.19,310.90L91.49,315.00L86.89,315.00ZM100.14,305.70L102.44,309.80L97.84,309.80ZM111.14,293.20L113.44,297.30L108.84,297.30ZM122.17,282.40L124.47,286.50L119.87,286.50ZM133.26,271.90L135.56,276.00L130.96,276.00ZM144.38,258.90L146.68,263.00L142.08,263.00ZM155.56,250.90L157.86,255.00L153.26,255.00ZM166.78,245.80L169.08,249.90L164.48,249.90ZM178.04,248.70L180.34,252.80L175.74,252.80ZM189.35,247.60L191.65,251.70L187.05,251.70ZM200.71,256.10L203.01,260.20L198.41,260.20ZM212.12,267.20L214.42,271.30L209.82,271.30ZM223.57,273.20L225.87,277.30L221.27,277.30ZM235.07,292.30L237.37,296.40L232.77,296.40ZM246.61,297.60L248.91,301.70L244.31,301.70ZM258.21,309.90L260.51,314.00L255.91,314.00ZM269.85,313.40L272.15,317.50L267.55,317.50ZM281.54,313.40L283.84,317.50L279.24,317.50ZM293.28,306.90L295.58,311.00L290.98,311.00ZM305.07,295.10L307.37,299.20L302.77,299.20ZM316.91,281.50L319.21,285.60L314.61,285.60Z" fill="#f3a322"/>
</g>
<g clip-path="url(#ca3)">
<path d="M40.02,415.30h11.63M45.83,413.30v4.00M50.61,415.30h12.00M56.61,413.30v4.00M61.24,415.00h12.38M67.43,413.00v4.00M71.91,410.00h12.75M78.29,408.00v4.00M82.63,408.10h13.13M89.19,406.10v4.00M93.39,403.70h13.51M100.14,401.70v4.00M104.19,402.30h13.89M111.14,400.30v4.00M115.04,398.50h14.27M122.17,396.50v4.00M125.93,395.80h14.65M133.26,393.80v4.00M136.87,391.60h15.03M144.38,389.60v4.00M147.85,390.20h15.42M155.56,388.20v4.00M158.87,385.00h15.81M166.78,383.00v4.00M169.94,382.80h16.20M178.04,380.80v4.00M181.06,380.60h16.59M189.35,378.60v4.00M192.22,377.80h16.98M200.71,375.80v4.00M203.43,371.90h17.38M212.12,369.90v4.00M214.68,371.50h17.77M223.57,369.50v4.00M225.98,368.20h18.17M235.07,366.20v4.00M237.33,364.20h18.57M246.61,362.20v4.00M248.72,362.00h18.97M258.21,360.00v4.00M260.17,360.50h19.37M269.85,358.50v4.00M271.65,359.20h19.77M281.54,357.20v4.00M283.19,357.00h20.18M293.28,355.00v4.00M294.78,355.00h20.59M305.07,353.00v4.00M306.41,353.30h21.00M316.91,351.30v4.00" stroke="#fbd54a" stroke-width="1.7" fill="none"/>
<path d="M40.60,415.04 L41.56,414.95 L42.52,414.86 L43.48,414.77 L44.44,414.68 L45.40,414.58 L46.36,414.48 L47.32,414.37 L48.28,414.27 L49.24,414.16 L50.20,414.05 L51.16,413.93 L52.12,413.81 L53.08,413.69 L54.04,413.57 L55.00,413.44 L55.96,413.31 L56.92,413.18 L57.88,413.05 L58.84,412.91 L59.80,412.77 L60.76,412.63 L61.72,412.48 L62.68,412.33 L63.64,412.18 L64.60,412.03 L65.56,411.88 L66.52,411.72 L67.48,411.56 L68.44,411.40 L69.40,411.23 L70.36,411.06 L71.32,410.89 L72.28,410.72 L73.24,410.54 L74.20,410.37 L75.16,410.19 L76.12,410.00 L77.07,409.82 L78.03,409.63 L78.99,409.44 L79.95,409.25 L80.91,409.06 L81.87,408.86 L82.83,408.67 L83.79,408.47 L84.75,408.26 L85.71,408.06 L86.67,407.85 L87.63,407.64 L88.59,407.43 L89.55,407.22 L90.51,407.00 L91.47,406.79 L92.43,406.57 L93.39,406.35 L94.35,406.13 L95.31,405.90 L96.27,405.67 L97.23,405.45 L98.19,405.22 L99.15,404.98 L100.11,404.75 L101.07,404.52 L102.03,404.28 L102.99,404.04 L103.95,403.80 L104.91,403.56 L105.87,403.31 L106.83,403.07 L107.79,402.82 L108.75,402.57 L109.71,402.32 L110.67,402.07 L111.63,401.82 L112.59,401.56 L113.55,401.31 L114.51,401.05 L115.47,400.79 L116.43,400.53 L117.39,400.27 L118.35,400.01 L119.31,399.74 L120.27,399.48 L121.23,399.21 L122.19,398.95 L123.15,398.68 L124.11,398.41 L125.07,398.14 L126.03,397.86 L126.99,397.59 L127.95,397.32 L128.91,397.04 L129.87,396.77 L130.83,396.49 L131.79,396.21 L132.75,395.93 L133.71,395.65 L134.67,395.37 L135.63,395.09 L136.59,394.81 L137.55,394.53 L138.51,394.24 L139.47,393.96 L140.43,393.68 L141.39,393.39 L142.35,393.10 L143.31,392.82 L144.27,392.53 L145.23,392.24 L146.19,391.95 L147.15,391.67 L148.11,391.38 L149.06,391.09 L150.02,390.80 L150.98,390.51 L151.94,390.22 L152.90,389.93 L153.86,389.63 L154.82,389.34 L155.78,389.05 L156.74,388.76 L157.70,388.47 L158.66,388.18 L159.62,387.88 L160.58,387.59 L161.54,387.30 L162.50,387.01 L163.46,386.71 L164.42,386.42 L165.38,386.13 L166.34,385.84 L167.30,385.55 L168.26,385.25 L169.22,384.96 L170.18,384.67 L171.14,384.38 L172.10,384.09 L173.06,383.80 L174.02,383.51 L174.98,383.22 L175.94,382.93 L176.90,382.64 L177.86,382.35 L178.82,382.06 L179.78,381.77 L180.74,381.48 L181.70,381.20 L182.66,380.91 L183.62,380.62 L184.58,380.34 L185.54,380.05 L186.50,379.77 L187.46,379.48 L188.42,379.20 L189.38,378.92 L190.34,378.64 L191.30,378.36 L192.26,378.08 L193.22,377.80 L194.18,377.52 L195.14,377.24 L196.10,376.96 L197.06,376.69 L198.02,376.41 L198.98,376.14 L199.94,375.87 L200.90,375.60 L201.86,375.32 L202.82,375.06 L203.78,374.79 L204.74,374.52 L205.70,374.25 L206.66,373.99 L207.62,373.72 L208.58,373.46 L209.54,373.20 L210.50,372.94 L211.46,372.68 L212.42,372.42 L213.38,372.16 L214.34,371.91 L215.30,371.65 L216.26,371.40 L217.22,371.15 L218.18,370.90 L219.14,370.65 L220.09,370.40 L221.05,370.16 L222.01,369.92 L222.97,369.67 L223.93,369.43 L224.89,369.19 L225.85,368.95 L226.81,368.72 L227.77,368.48 L228.73,368.25 L229.69,368.02 L230.65,367.79 L231.61,367.56 L232.57,367.33 L233.53,367.11 L234.49,366.89 L235.45,366.67 L236.41,366.45 L237.37,366.23 L238.33,366.01 L239.29,365.80 L240.25,365.59 L241.21,365.38 L242.17,365.17 L243.13,364.96 L244.09,364.76 L245.05,364.55 L246.01,364.35 L246.97,364.15 L247.93,363.96 L248.89,363.76 L249.85,363.57 L250.81,363.38 L251.77,363.19 L252.73,363.00 L253.69,362.82 L254.65,362.64 L255.61,362.46 L256.57,362.28 L257.53,362.10 L258.49,361.93 L259.45,361.76 L260.41,361.59 L261.37,361.42 L262.33,361.25 L263.29,361.09 L264.25,360.93 L265.21,360.77 L266.17,360.61 L267.13,360.46 L268.09,360.31 L269.05,360.16 L270.01,360.01 L270.97,359.86 L271.93,359.72 L272.89,359.58 L273.85,359.44 L274.81,359.30 L275.77,359.17 L276.73,359.04 L277.69,358.91 L278.65,358.78 L279.61,358.66 L280.57,358.54 L281.53,358.42 L282.49,358.30 L283.45,358.18 L284.41,358.07 L285.37,357.96 L286.33,357.85 L287.29,357.75 L288.25,357.64 L289.21,357.54 L290.17,357.45 L291.13,357.35 L292.08,357.26 L293.04,357.17 L294.00,357.08 L294.96,356.99 L295.92,356.91 L296.88,356.83 L297.84,356.75 L298.80,356.68 L299.76,356.60 L300.72,356.53 L301.68,356.46 L302.64,356.40 L303.60,356.33 L304.56,356.27 L305.52,356.21 L306.48,356.16 L307.44,356.11 L308.40,356.06 L309.36,356.01 L310.32,355.96 L311.28,355.92 L312.24,355.88 L313.20,355.84 L314.16,355.80 L315.12,355.77 L316.08,355.74 L317.04,355.71 L318.00,355.69 L318.96,355.66 L319.92,355.64 L320.88,355.63 L321.84,355.61 L322.80,355.60 L323.76,355.59 L324.72,355.58 L325.68,355.57 L326.64,355.57 L327.60,355.57" stroke="#fedb5e" stroke-width="2.6" fill="none"/>
<circle cx="45.83" cy="415.30" r="3.7" fill="#876b14"/><circle cx="45.83" cy="415.30" r="2.0" fill="#fdd33e"/>
<circle cx="56.61" cy="415.30" r="3.7" fill="#876b14"/><circle cx="56.61" cy="415.30" r="2.0" fill="#fdd33e"/>
<circle cx="67.43" cy="415.00" r="3.7" fill="#876b14"/><circle cx="67.43" cy="415.00" r="2.0" fill="#fdd33e"/>
<circle cx="78.29" cy="410.00" r="3.7" fill="#876b14"/><circle cx="78.29" cy="410.00" r="2.0" fill="#fdd33e"/>
<circle cx="89.19" cy="408.10" r="3.7" fill="#876b14"/><circle cx="89.19" cy="408.10" r="2.0" fill="#fdd33e"/>
<circle cx="100.14" cy="403.70" r="3.7" fill="#876b14"/><circle cx="100.14" cy="403.70" r="2.0" fill="#fdd33e"/>
<circle cx="111.14" cy="402.30" r="3.7" fill="#876b14"/><circle cx="111.14" cy="402.30" r="2.0" fill="#fdd33e"/>
<circle cx="122.17" cy="398.50" r="3.7" fill="#876b14"/><circle cx="122.17" cy="398.50" r="2.0" fill="#fdd33e"/>
<circle cx="133.26" cy="395.80" r="3.7" fill="#876b14"/><circle cx="133.26" cy="395.80" r="2.0" fill="#fdd33e"/>
<circle cx="144.38" cy="391.60" r="3.7" fill="#876b14"/><circle cx="144.38" cy="391.60" r="2.0" fill="#fdd33e"/>
<circle cx="155.56" cy="390.20" r="3.7" fill="#876b14"/><circle cx="155.56" cy="390.20" r="2.0" fill="#fdd33e"/>
<circle cx="166.78" cy="385.00" r="3.7" fill="#876b14"/><circle cx="166.78" cy="385.00" r="2.0" fill="#fdd33e"/>
<circle cx="178.04" cy="382.80" r="3.7" fill="#876b14"/><circle cx="178.04" cy="382.80" r="2.0" fill="#fdd33e"/>
<circle cx="189.35" cy="380.60" r="3.7" fill="#876b14"/><circle cx="189.35" cy="380.60" r="2.0" fill="#fdd33e"/>
<circle cx="200.71" cy="377.80" r="3.7" fill="#876b14"/><circle cx="200.71" cy="377.80" r="2.0" fill="#fdd33e"/>
<circle cx="212.12" cy="371.90" r="3.7" fill="#876b14"/><circle cx="212.12" cy="371.90" r="2.0" fill="#fdd33e"/>
<circle cx="223.57" cy="371.50" r="3.7" fill="#876b14"/><circle cx="223.57" cy="371.50" r="2.0" fill="#fdd33e"/>
<circle cx="235.07" cy="368.20" r="3.7" fill="#876b14"/><circle cx="235.07" cy="368.20" r="2.0" fill="#fdd33e"/>
<circle cx="246.61" cy="364.20" r="3.7" fill="#876b14"/><circle cx="246.61" cy="364.20" r="2.0" fill="#fdd33e"/>
<circle cx="258.21" cy="362.00" r="3.7" fill="#876b14"/><circle cx="258.21" cy="362.00" r="2.0" fill="#fdd33e"/>
<circle cx="269.85" cy="360.50" r="3.7" fill="#876b14"/><circle cx="269.85" cy="360.50" r="2.0" fill="#fdd33e"/>
<circle cx="281.54" cy="359.20" r="3.7" fill="#876b14"/><circle cx="281.54" cy="359.20" r="2.0" fill="#fdd33e"/>
<circle cx="293.28" cy="357.00" r="3.7" fill="#876b14"/><circle cx="293.28" cy="357.00" r="2.0" fill="#fdd33e"/>
<circle cx="305.07" cy="355.00" r="3.7" fill="#876b14"/><circle cx="305.07" cy="355.00" r="2.0" fill="#fdd33e"/>
<circle cx="316.91" cy="353.30" r="3.7" fill="#876b14"/><circle cx="316.91" cy="353.30" r="2.0" fill="#fdd33e"/>
</g>
<g stroke="#474747" stroke-width="1.1">
<path d="M40.6,49.12h3.2M327.6,49.12h-3.2M40.6,71.75h3.2M327.6,71.75h-3.2M40.6,94.38h3.2M327.6,94.38h-3.2M90.60,26.5v3.2M90.60,117.0v-3.2M142.27,26.5v3.2M142.27,117.0v-3.2M193.95,26.5v3.2M193.95,117.0v-3.2M245.63,26.5v3.2M245.63,117.0v-3.2M297.30,26.5v3.2M297.30,117.0v-3.2"/>
<path d="M40.6,154.55h3.2M327.6,154.55h-3.2M40.6,177.10h3.2M327.6,177.10h-3.2M40.6,199.65h3.2M327.6,199.65h-3.2M90.60,132.0v3.2M90.60,222.2v-3.2M142.27,132.0v3.2M142.27,222.2v-3.2M193.95,132.0v3.2M193.95,222.2v-3.2M245.63,132.0v3.2M245.63,222.2v-3.2M297.30,132.0v3.2M297.30,222.2v-3.2"/>
<path d="M40.6,259.93h3.2M327.6,259.93h-3.2M40.6,282.45h3.2M327.6,282.45h-3.2M40.6,304.98h3.2M327.6,304.98h-3.2M90.60,237.4v3.2M90.60,327.5v-3.2M142.27,237.4v3.2M142.27,327.5v-3.2M193.95,237.4v3.2M193.95,327.5v-3.2M245.63,237.4v3.2M245.63,327.5v-3.2M297.30,237.4v3.2M297.30,327.5v-3.2"/>
<path d="M40.6,365.12h3.2M327.6,365.12h-3.2M40.6,387.65h3.2M327.6,387.65h-3.2M40.6,410.18h3.2M327.6,410.18h-3.2M90.60,342.6v3.2M90.60,432.7v-3.2M142.27,342.6v3.2M142.27,432.7v-3.2M193.95,342.6v3.2M193.95,432.7v-3.2M245.63,342.6v3.2M245.63,432.7v-3.2M297.30,342.6v3.2M297.30,432.7v-3.2"/>
</g>
<rect x="40.6" y="26.5" width="287.0" height="90.5" stroke="#474747" stroke-width="1.3" fill="none"/>
<rect x="40.6" y="132.0" width="287.0" height="90.19999999999999" stroke="#474747" stroke-width="1.3" fill="none"/>
<rect x="40.6" y="237.4" width="287.0" height="90.1" stroke="#474747" stroke-width="1.3" fill="none"/>
<rect x="40.6" y="342.6" width="287.0" height="90.09999999999997" stroke="#474747" stroke-width="1.3" fill="none"/>
<g font-family="Liberation Sans, sans-serif" font-size="10" fill="#262626">
<text x="36.6" y="30.10" text-anchor="end">1</text>
<text x="36.6" y="52.73" text-anchor="end">0.5</text>
<text x="36.6" y="75.35" text-anchor="end">0</text>
<text x="36.6" y="97.97" text-anchor="end">-0.5</text>
<text x="36.6" y="120.60" text-anchor="end">-1</text>
<text x="36.6" y="135.60" text-anchor="end">1</text>
<text x="36.6" y="158.15" text-anchor="end">0.5</text>
<text x="36.6" y="180.70" text-anchor="end">0</text>
<text x="36.6" y="203.25" text-anchor="end">-0.5</text>
<text x="36.6" y="225.80" text-anchor="end">-1</text>
<text x="36.6" y="241.00" text-anchor="end">1</text>
<text x="36.6" y="263.53" text-anchor="end">0.5</text>
<text x="36.6" y="286.05" text-anchor="end">0</text>
<text x="36.6" y="308.58" text-anchor="end">-0.5</text>
<text x="36.6" y="331.10" text-anchor="end">-1</text>
<text x="36.6" y="346.20" text-anchor="end">1</text>
<text x="36.6" y="368.73" text-anchor="end">0.5</text>
<text x="36.6" y="391.25" text-anchor="end">0</text>
<text x="36.6" y="413.78" text-anchor="end">-0.5</text>
<text x="36.6" y="436.30" text-anchor="end">-1</text>
<text x="90.60" y="21.0" text-anchor="middle">1.038</text>
<text x="142.27" y="21.0" text-anchor="middle">1.028</text>
<text x="193.95" y="21.0" text-anchor="middle">1.018</text>
<text x="245.63" y="21.0" text-anchor="middle">1.009</text>
<text x="297.30" y="21.0" text-anchor="middle">1.000</text>
<text x="90.60" y="446.8" text-anchor="middle">10.5</text>
<text x="142.27" y="446.8" text-anchor="middle">10.6</text>
<text x="193.95" y="446.8" text-anchor="middle">10.7</text>
<text x="245.63" y="446.8" text-anchor="middle">10.8</text>
<text x="297.30" y="446.8" text-anchor="middle">10.9</text>
</g>
<g clip-path="url(#cb)"><path d="M380.00,31.92 L380.34,33.32 L380.68,34.64 L381.02,35.88 L381.36,37.05 L381.69,38.15 L382.03,39.18 L382.37,40.15 L382.71,41.07 L383.05,41.94 L383.39,42.76 L383.73,43.53 L384.07,44.27 L384.41,44.98 L384.75,45.66 L385.08,46.32 L385.42,46.95 L385.76,47.57 L386.10,48.17 L386.44,48.75 L386.78,49.31 L387.12,49.85 L387.46,50.38 L387.80,50.89 L388.14,51.39 L388.47,51.87 L388.81,52.34 L389.15,52.80 L389.49,53.24 L389.83,53.67 L390.17,54.09 L390.51,54.50 L390.85,54.90 L391.19,55.29 L391.53,55.67 L391.86,56.04 L392.20,56.41 L392.54,56.76 L392.88,57.11 L393.22,57.46 L393.56,57.79 L393.90,58.13 L394.24,58.46 L394.58,58.78 L394.92,59.10 L395.25,59.42 L395.59,59.74 L395.93,60.06 L396.27,60.37 L396.61,60.68 L396.95,60.99 L397.29,61.30 L397.63,61.60 L397.97,61.90 L398.31,62.20 L398.64,62.50 L398.98,62.80 L399.32,63.09 L399.66,63.38 L400.00,63.67 L401.52,64.94 L403.03,66.17 L404.55,67.37 L406.06,68.52 L407.58,69.64 L409.09,70.73 L410.61,71.79 L412.13,72.81 L413.64,73.80 L415.16,74.76 L416.67,75.70 L418.19,76.61 L419.70,77.50 L421.22,78.36 L422.74,79.20 L424.25,80.01 L425.77,80.81 L427.28,81.58 L428.80,82.34 L430.31,83.07 L431.83,83.78 L433.35,84.47 L434.86,85.15 L436.38,85.80 L437.89,86.44 L439.41,87.05 L440.92,87.65 L442.44,88.24 L443.96,88.80 L445.47,89.35 L446.99,89.89 L448.50,90.41 L450.02,90.91 L451.53,91.40 L453.05,91.88 L454.57,92.34 L456.08,92.79 L457.60,93.22 L459.11,93.65 L460.63,94.06 L462.14,94.46 L463.66,94.85 L465.18,95.23 L466.69,95.60 L468.21,95.95 L469.72,96.30 L471.24,96.64 L472.75,96.98 L474.27,97.30 L475.79,97.62 L477.30,97.93 L478.82,98.23 L480.33,98.53 L481.85,98.82 L483.36,99.10 L484.88,99.38 L486.40,99.66 L487.91,99.93 L489.43,100.19 L490.94,100.46 L492.46,100.72 L493.97,100.98 L495.49,101.24 L497.01,101.49 L498.52,101.75 L500.04,102.00 L501.55,102.25 L503.07,102.51 L504.58,102.76 L506.10,103.01 L507.62,103.26 L509.13,103.52 L510.65,103.77 L512.16,104.02 L513.68,104.27 L515.19,104.52 L516.71,104.77 L518.23,105.02 L519.74,105.27 L521.26,105.52 L522.77,105.77 L524.29,106.02 L525.81,106.27 L527.32,106.52 L528.84,106.76 L530.35,107.01 L531.87,107.26 L533.38,107.50 L534.90,107.75 L536.42,108.00 L537.93,108.24 L539.45,108.49 L540.96,108.73 L542.48,108.97 L543.99,109.22 L545.51,109.46 L547.03,109.70 L548.54,109.95 L550.06,110.19 L551.57,110.43 L553.09,110.67 L554.60,110.91 L556.12,111.15 L557.64,111.39 L559.15,111.63 L560.67,111.86 L562.18,112.10 L563.70,112.34 L565.21,112.57 L566.73,112.81 L568.25,113.05 L569.76,113.28 L571.28,113.51 L572.79,113.75 L574.31,113.98 L575.82,114.21 L577.34,114.44 L578.86,114.68 L580.37,114.91 L581.89,115.14 L583.40,115.37 L584.92,115.59 L586.43,115.82 L587.95,116.05 L589.47,116.28 L590.98,116.50 L592.50,116.73 L594.01,116.95 L595.53,117.18 L597.04,117.40 L598.56,117.62 L600.08,117.84 L601.59,118.06 L603.11,118.28 L604.62,118.50 L606.14,118.72 L607.65,118.94 L609.17,119.16 L610.69,119.37 L612.20,119.59 L613.72,119.80 L615.23,120.02 L616.75,120.23 L618.26,120.44 L619.78,120.66 L621.30,120.87 L622.81,121.08 L624.33,121.29 L625.84,121.50 L627.36,121.70 L628.87,121.91 L630.39,122.12 L631.91,122.32 L633.42,122.52 L634.94,122.73 L636.45,122.93 L637.97,123.13 L639.48,123.33 L641.00,123.53 L641.00,132.45 L639.48,132.26 L637.97,132.07 L636.45,131.88 L634.94,131.69 L633.42,131.50 L631.91,131.31 L630.39,131.12 L628.87,130.93 L627.36,130.74 L625.84,130.55 L624.33,130.36 L622.81,130.17 L621.30,129.98 L619.78,129.79 L618.26,129.60 L616.75,129.41 L615.23,129.22 L613.72,129.03 L612.20,128.84 L610.69,128.65 L609.17,128.46 L607.65,128.27 L606.14,128.08 L604.62,127.89 L603.11,127.70 L601.59,127.51 L600.08,127.32 L598.56,127.13 L597.04,126.94 L595.53,126.75 L594.01,126.56 L592.50,126.37 L590.98,126.18 L589.47,125.99 L587.95,125.81 L586.43,125.62 L584.92,125.43 L583.40,125.24 L581.89,125.05 L580.37,124.87 L578.86,124.68 L577.34,124.49 L575.82,124.31 L574.31,124.12 L572.79,123.93 L571.28,123.75 L569.76,123.56 L568.25,123.38 L566.73,123.19 L565.21,123.01 L563.70,122.83 L562.18,122.64 L560.67,122.46 L559.15,122.28 L557.64,122.09 L556.12,121.91 L554.60,121.73 L553.09,121.55 L551.57,121.37 L550.06,121.19 L548.54,121.01 L547.03,120.83 L545.51,120.65 L543.99,120.47 L542.48,120.29 L540.96,120.11 L539.45,119.93 L537.93,119.76 L536.42,119.58 L534.90,119.40 L533.38,119.23 L531.87,119.05 L530.35,118.88 L528.84,118.71 L527.32,118.53 L525.81,118.36 L524.29,118.19 L522.77,118.02 L521.26,117.85 L519.74,117.67 L518.23,117.50 L516.71,117.33 L515.19,117.16 L513.68,116.99 L512.16,116.82 L510.65,116.64 L509.13,116.47 L507.62,116.30 L506.10,116.13 L504.58,115.95 L503.07,115.78 L501.55,115.60 L500.04,115.43 L498.52,115.25 L497.01,115.07 L495.49,114.89 L493.97,114.72 L492.46,114.54 L490.94,114.35 L489.43,114.17 L487.91,113.99 L486.40,113.80 L484.88,113.62 L483.36,113.43 L481.85,113.24 L480.33,113.05 L478.82,112.85 L477.30,112.66 L475.79,112.46 L474.27,112.26 L472.75,112.06 L471.24,111.86 L469.72,111.66 L468.21,111.45 L466.69,111.24 L465.18,111.03 L463.66,110.82 L462.14,110.60 L460.63,110.38 L459.11,110.16 L457.60,109.94 L456.08,109.71 L454.57,109.48 L453.05,109.25 L451.53,109.01 L450.02,108.78 L448.50,108.54 L446.99,108.29 L445.47,108.04 L443.96,107.79 L442.44,107.54 L440.92,107.28 L439.41,107.02 L437.89,106.76 L436.38,106.49 L434.86,106.22 L433.35,105.94 L431.83,105.66 L430.31,105.38 L428.80,105.10 L427.28,104.80 L425.77,104.51 L424.25,104.21 L422.74,103.91 L421.22,103.60 L419.70,103.29 L418.19,102.97 L416.67,102.65 L415.16,102.33 L413.64,102.00 L412.13,101.66 L410.61,101.34 L409.09,101.01 L407.58,100.69 L406.06,100.39 L404.55,100.10 L403.03,99.83 L401.52,99.57 L400.00,99.35 L399.66,99.30 L399.32,99.25 L398.98,99.21 L398.64,99.17 L398.31,99.13 L397.97,99.09 L397.63,99.05 L397.29,99.01 L396.95,98.98 L396.61,98.95 L396.27,98.91 L395.93,98.89 L395.59,98.86 L395.25,98.83 L394.92,98.81 L394.58,98.79 L394.24,98.77 L393.90,98.75 L393.56,98.73 L393.22,98.72 L392.88,98.71 L392.54,98.70 L392.20,98.69 L391.86,98.69 L391.53,98.68 L391.19,98.68 L390.85,98.69 L390.51,98.69 L390.17,98.70 L389.83,98.71 L389.49,98.72 L389.15,98.74 L388.81,98.76 L388.47,98.79 L388.14,98.83 L387.80,98.88 L387.46,98.94 L387.12,99.02 L386.78,99.11 L386.44,99.22 L386.10,99.34 L385.76,99.49 L385.42,99.66 L385.08,99.84 L384.75,100.06 L384.41,100.29 L384.07,100.56 L383.73,100.85 L383.39,101.17 L383.05,101.53 L382.71,101.92 L382.37,102.38 L382.03,102.95 L381.69,103.68 L381.36,104.61 L381.02,105.79 L380.68,107.25 L380.34,109.05 L380.00,111.22Z" fill="#b4b4fb"/>
<path d="M380.00,71.54 L380.34,71.59 L380.68,71.65 L381.02,71.71 L381.36,71.79 L381.69,71.88 L382.03,71.98 L382.37,72.09 L382.71,72.21 L383.05,72.33 L383.39,72.47 L383.73,72.61 L384.07,72.76 L384.41,72.92 L384.75,73.09 L385.08,73.26 L385.42,73.43 L385.76,73.62 L386.10,73.81 L386.44,74.00 L386.78,74.20 L387.12,74.40 L387.46,74.61 L387.80,74.82 L388.14,75.03 L388.47,75.25 L388.81,75.47 L389.15,75.69 L389.49,75.91 L389.83,76.13 L390.17,76.36 L390.51,76.58 L390.85,76.81 L391.19,77.04 L391.53,77.26 L391.86,77.49 L392.20,77.71 L392.54,77.94 L392.88,78.16 L393.22,78.38 L393.56,78.60 L393.90,78.82 L394.24,79.04 L394.58,79.25 L394.92,79.46 L395.25,79.67 L395.59,79.88 L395.93,80.08 L396.27,80.28 L396.61,80.48 L396.95,80.68 L397.29,80.87 L397.63,81.06 L397.97,81.25 L398.31,81.44 L398.64,81.62 L398.98,81.80 L399.32,81.98 L399.66,82.16 L400.00,82.34 L401.52,83.10 L403.03,83.84 L404.55,84.55 L406.06,85.23 L407.58,85.90 L409.09,86.55 L410.61,87.19 L412.13,87.80 L413.64,88.40 L415.16,88.99 L416.67,89.56 L418.19,90.11 L419.70,90.66 L421.22,91.19 L422.74,91.70 L424.25,92.21 L425.77,92.71 L427.28,93.19 L428.80,93.67 L430.31,94.13 L431.83,94.59 L433.35,95.04 L434.86,95.49 L436.38,95.92 L437.89,96.35 L439.41,96.77 L440.92,97.18 L442.44,97.58 L443.96,97.98 L445.47,98.37 L446.99,98.75 L448.50,99.13 L450.02,99.50 L451.53,99.86 L453.05,100.22 L454.57,100.57 L456.08,100.91 L457.60,101.25 L459.11,101.58 L460.63,101.91 L462.14,102.23 L463.66,102.54 L465.18,102.85 L466.69,103.16 L468.21,103.45 L469.72,103.75 L471.24,104.04 L472.75,104.32 L474.27,104.60 L475.79,104.88 L477.30,105.15 L478.82,105.42 L480.33,105.68 L481.85,105.94 L483.36,106.19 L484.88,106.44 L486.40,106.69 L487.91,106.94 L489.43,107.18 L490.94,107.42 L492.46,107.65 L493.97,107.88 L495.49,108.11 L497.01,108.34 L498.52,108.56 L500.04,108.79 L501.55,109.01 L503.07,109.22 L504.58,109.44 L506.10,109.65 L507.62,109.87 L509.13,110.08 L510.65,110.29 L512.16,110.50 L513.68,110.70 L515.19,110.91 L516.71,111.11 L518.23,111.32 L519.74,111.52 L521.26,111.73 L522.77,111.93 L524.29,112.13 L525.81,112.33 L527.32,112.54 L528.84,112.74 L530.35,112.94 L531.87,113.15 L533.38,113.35 L534.90,113.55 L536.42,113.76 L537.93,113.96 L539.45,114.17 L540.96,114.38 L542.48,114.58 L543.99,114.79 L545.51,115.00 L547.03,115.20 L548.54,115.41 L550.06,115.62 L551.57,115.82 L553.09,116.03 L554.60,116.24 L556.12,116.45 L557.64,116.66 L559.15,116.87 L560.67,117.08 L562.18,117.28 L563.70,117.49 L565.21,117.70 L566.73,117.91 L568.25,118.12 L569.76,118.33 L571.28,118.54 L572.79,118.75 L574.31,118.96 L575.82,119.17 L577.34,119.38 L578.86,119.59 L580.37,119.80 L581.89,120.01 L583.40,120.22 L584.92,120.43 L586.43,120.64 L587.95,120.85 L589.47,121.06 L590.98,121.27 L592.50,121.48 L594.01,121.69 L595.53,121.90 L597.04,122.11 L598.56,122.32 L600.08,122.53 L601.59,122.74 L603.11,122.94 L604.62,123.15 L606.14,123.36 L607.65,123.57 L609.17,123.78 L610.69,123.98 L612.20,124.19 L613.72,124.40 L615.23,124.60 L616.75,124.81 L618.26,125.02 L619.78,125.22 L621.30,125.43 L622.81,125.63 L624.33,125.84 L625.84,126.04 L627.36,126.25 L628.87,126.45 L630.39,126.65 L631.91,126.85 L633.42,127.06 L634.94,127.26 L636.45,127.46 L637.97,127.66 L639.48,127.86 L641.00,128.06" stroke="#1f72c4" stroke-width="2.1" fill="none"/></g>
<g clip-path="url(#cc)"><path d="M380.00,432.90 L381.09,432.86 L382.18,432.80 L383.28,432.74 L384.37,432.68 L385.46,432.60 L386.55,432.51 L387.64,432.42 L388.74,432.32 L389.83,432.21 L390.92,432.09 L392.01,431.96 L393.10,431.83 L394.20,431.69 L395.29,431.54 L396.38,431.38 L397.47,431.21 L398.56,431.03 L399.66,430.85 L400.75,430.65 L401.84,430.45 L402.93,430.24 L404.03,430.02 L405.12,429.80 L406.21,429.56 L407.30,429.32 L408.39,429.06 L409.49,428.80 L410.58,428.53 L411.67,428.25 L412.76,427.97 L413.85,427.67 L414.95,427.37 L416.04,427.06 L417.13,426.73 L418.22,426.40 L419.31,426.07 L420.41,425.72 L421.50,425.36 L422.59,425.00 L423.68,424.62 L424.77,424.24 L425.87,423.85 L426.96,423.45 L428.05,423.04 L429.14,422.62 L430.23,422.20 L431.33,421.76 L432.42,421.32 L433.51,420.87 L434.60,420.40 L435.69,419.93 L436.79,419.45 L437.88,418.97 L438.97,418.47 L440.06,417.96 L441.15,417.45 L442.25,416.92 L443.34,416.39 L444.43,415.85 L445.52,415.29 L446.62,414.73 L447.71,414.16 L448.80,413.58 L449.89,413.00 L450.98,412.40 L452.08,411.79 L453.17,411.18 L454.26,410.55 L455.35,409.92 L456.44,409.28 L457.54,408.62 L458.63,407.96 L459.72,407.29 L460.81,406.61 L461.90,405.92 L463.00,405.22 L464.09,404.52 L465.18,403.80 L466.27,403.07 L467.36,402.34 L468.46,401.59 L469.55,400.84 L470.64,400.07 L471.73,399.30 L472.82,398.52 L473.92,397.73 L475.01,396.92 L476.10,396.11 L477.19,395.29 L478.28,394.46 L479.38,393.62 L480.47,392.77 L481.56,391.91 L482.65,391.05 L483.74,390.17 L484.84,389.28 L485.93,388.38 L487.02,387.48 L488.11,386.56 L489.21,385.63 L490.30,384.70 L491.39,383.75 L492.48,382.80 L493.57,381.83 L494.67,380.86 L495.76,379.87 L496.85,378.88 L497.94,377.87 L499.03,376.86 L500.13,375.84 L501.22,374.80 L502.31,373.76 L503.40,372.71 L504.49,371.64 L505.59,370.57 L506.68,369.49 L507.77,368.39 L508.86,367.29 L509.95,366.18 L511.05,365.06 L512.14,363.92 L513.23,362.78 L514.32,361.63 L515.41,360.47 L516.51,359.29 L517.60,358.11 L518.69,356.92 L519.78,355.71 L520.87,354.50 L521.97,353.28 L523.06,352.04 L524.15,350.80 L525.24,349.55 L526.33,348.28 L527.43,347.01 L528.52,345.72 L529.61,344.43 L530.70,343.12 L531.79,341.81 L532.89,340.48 L533.98,339.15 L535.07,337.80 L536.16,336.44 L537.26,335.08 L538.35,333.70 L539.44,332.31 L540.53,330.92 L541.62,329.51 L542.72,328.09 L543.81,326.66 L544.90,325.22 L545.99,323.77 L547.08,322.31 L548.18,320.84 L549.27,319.36 L550.36,317.86 L551.45,316.36 L552.54,314.85 L553.64,313.33 L554.73,311.79 L555.82,310.25 L556.91,308.69 L558.00,307.12 L559.10,305.55 L560.19,303.96 L561.28,302.36 L562.37,300.75 L563.46,299.13 L564.56,297.50 L565.65,295.86 L566.74,294.21 L567.83,292.55 L568.92,290.87 L570.02,289.19 L571.11,287.49 L572.20,285.79 L573.29,284.07 L574.38,282.34 L575.48,280.61 L576.57,278.86 L577.66,277.10 L578.75,275.32 L579.85,273.54 L580.94,271.75 L582.03,269.95 L583.12,268.13 L584.21,266.30 L585.31,264.47 L586.40,262.62 L587.49,260.76 L588.58,258.89 L589.67,257.01 L590.77,255.12 L591.86,253.21 L592.95,251.30 L594.04,249.37 L595.13,247.43 L596.23,245.49 L597.32,243.53 L598.41,241.56 L599.50,239.57 L600.59,237.58 L601.69,235.58 L602.78,233.56 L603.87,231.53 L604.96,229.50 L606.05,227.45 L607.15,225.39 L608.24,223.31 L609.33,221.23 L610.42,219.13 L611.51,217.03 L612.61,214.91 L613.70,212.78 L614.79,210.64 L615.88,208.49 L616.97,206.32 L618.07,204.15 L619.16,201.96 L620.25,199.77 L621.34,197.56 L622.44,195.33 L623.53,193.10 L624.62,190.86 L625.71,188.60 L626.80,186.33 L627.90,184.06 L628.99,181.76 L630.08,179.46 L631.17,177.15 L632.26,174.82 L633.36,172.48 L634.45,170.14 L635.54,167.77 L636.63,165.40 L637.72,163.02 L638.82,160.62 L639.91,158.21 L641.00,155.79" stroke="#7f7f7f" stroke-width="2" fill="none"/></g>
<circle cx="423.1" cy="423.6" r="3.7" fill="#876b14"/><circle cx="423.1" cy="423.6" r="2.2" fill="#fdd33e"/>
<path d="M471.6,396.8L476.1,405.2L467.1,405.2Z" fill="#8c5c0c"/><path d="M471.6,399.9L473.70000000000005,403.59999999999997L469.5,403.59999999999997Z" fill="#f3a322"/>
<path d="M516.4,353.3h6.8v6.8h-6.8Z" fill="#4a6719"/><path d="M518.0,354.9h3.6v3.6h-3.6Z" fill="#86ad3c"/>
<path d="M616.70,200.30L620.60,205.40L616.70,210.50L612.80,205.40Z" fill="#1a7a6f"/><path d="M616.70,202.80L618.60,205.40L616.70,208.00L614.80,205.40Z" fill="#3fd0bf"/>
<rect x="380.0" y="27.3" width="261.0" height="111.50000000000001" stroke="#474747" stroke-width="1.3" fill="none"/>
<rect x="380.0" y="153.4" width="261.0" height="279.6" stroke="#474747" stroke-width="1.3" fill="none"/>
<path d="M423.05,27.3v3.2M423.05,138.8v-3.2M423.05,153.4v3.2M423.05,433.0v-3.2M471.46,27.3v3.2M471.46,138.8v-3.2M471.46,153.4v3.2M471.46,433.0v-3.2M519.88,27.3v3.2M519.88,138.8v-3.2M519.88,153.4v3.2M519.88,433.0v-3.2M568.29,27.3v3.2M568.29,138.8v-3.2M568.29,153.4v3.2M568.29,433.0v-3.2M616.70,27.3v3.2M616.70,138.8v-3.2M616.70,153.4v3.2M616.70,433.0v-3.2M380.0,120.22h3.2M641.0,120.22h-3.2M380.0,83.05h3.2M641.0,83.05h-3.2M380.0,45.88h3.2M641.0,45.88h-3.2M380.0,374.75h3.2M380.0,316.50h3.2M380.0,258.25h3.2M380.0,200.00h3.2M641.0,365.30h-3.2M641.0,297.60h-3.2M641.0,229.90h-3.2M641.0,162.20h-3.2" stroke="#474747" stroke-width="1.1"/>
<g font-family="Liberation Sans, sans-serif" font-size="10" fill="#262626">
<text x="376.2" y="123.82" text-anchor="end">8</text>
<text x="376.2" y="86.65" text-anchor="end">10</text>
<text x="376.2" y="49.48" text-anchor="end">12</text>
<text x="376.2" y="436.60" text-anchor="end">0</text>
<text x="376.2" y="378.35" text-anchor="end">5</text>
<text x="376.2" y="320.10" text-anchor="end">10</text>
<text x="376.2" y="261.85" text-anchor="end">15</text>
<text x="376.2" y="203.60" text-anchor="end">20</text>
<text x="645.4" y="436.60">0</text>
<text x="645.4" y="368.90">400</text>
<text x="645.4" y="301.20">800</text>
<text x="645.4" y="233.50">1200</text>
<text x="645.4" y="165.80">1600</text>
<text x="423.05" y="447.0" text-anchor="middle">0.2</text>
<text x="471.46" y="447.0" text-anchor="middle">0.4</text>
<text x="519.88" y="447.0" text-anchor="middle">0.6</text>
<text x="568.29" y="447.0" text-anchor="middle">0.8</text>
<text x="616.70" y="447.0" text-anchor="middle">1</text>
</g>
<g font-family="Liberation Sans, sans-serif" font-weight="bold" font-size="13" fill="#000">
<text x="2.6" y="27.7">a</text><text x="336.6" y="27.9">b</text><text x="336.6" y="155.9">c</text></g>
<g transform="translate(59.00,39.60)" font-family="Liberation Sans, sans-serif" fill="#262626"><text x="0.00" y="0.00" font-size="11" xml:space="preserve">Δ</text><text x="7.35" y="0.00" font-size="11" font-style="italic" xml:space="preserve">q</text><text x="13.47" y="0.00" font-size="11" xml:space="preserve"> = </text><text x="26.00" y="0.00" font-size="11" font-style="italic" xml:space="preserve">ħk</text><text x="37.62" y="5.00" font-size="8.6" xml:space="preserve">L</text></g>
<g transform="translate(59.00,145.10)" font-family="Liberation Sans, sans-serif" fill="#262626"><text x="0.00" y="0.00" font-size="11" xml:space="preserve">Δ</text><text x="7.35" y="0.00" font-size="11" font-style="italic" xml:space="preserve">q</text><text x="13.47" y="0.00" font-size="11" xml:space="preserve"> = 0.6</text><text x="41.29" y="0.00" font-size="11" font-style="italic" xml:space="preserve">ħk</text><text x="52.91" y="5.00" font-size="8.6" xml:space="preserve">L</text></g>
<g transform="translate(59.00,250.50)" font-family="Liberation Sans, sans-serif" fill="#262626"><text x="0.00" y="0.00" font-size="11" xml:space="preserve">Δ</text><text x="7.35" y="0.00" font-size="11" font-style="italic" xml:space="preserve">q</text><text x="13.47" y="0.00" font-size="11" xml:space="preserve"> = 0.4</text><text x="41.29" y="0.00" font-size="11" font-style="italic" xml:space="preserve">ħk</text><text x="52.91" y="5.00" font-size="8.6" xml:space="preserve">L</text></g>
<g transform="translate(59.00,355.70)" font-family="Liberation Sans, sans-serif" fill="#262626"><text x="0.00" y="0.00" font-size="11" xml:space="preserve">Δ</text><text x="7.35" y="0.00" font-size="11" font-style="italic" xml:space="preserve">q</text><text x="13.47" y="0.00" font-size="11" xml:space="preserve"> = 0.2</text><text x="41.29" y="0.00" font-size="11" font-style="italic" xml:space="preserve">ħk</text><text x="52.91" y="5.00" font-size="8.6" xml:space="preserve">L</text></g>
<g transform="translate(184.10,460.00)" font-family="Liberation Sans, sans-serif" fill="#262626"><text x="-49.60" y="0.00" font-size="10.6" xml:space="preserve">Bloch Period </text><text x="13.45" y="0.00" font-size="10.6" font-style="italic" xml:space="preserve">T</text><text x="19.93" y="4.60" font-size="8.3" xml:space="preserve">B</text><text x="25.46" y="0.00" font-size="10.6" xml:space="preserve"> (ms)</text></g>
<g transform="translate(509.90,460.00)" font-family="Liberation Sans, sans-serif" fill="#262626"><text x="-44.44" y="0.00" font-size="10.6" xml:space="preserve">Loop Size Δ</text><text x="12.73" y="0.00" font-size="10.6" font-style="italic" xml:space="preserve">q</text><text x="18.63" y="0.00" font-size="10.6" xml:space="preserve"> (</text><text x="25.10" y="0.00" font-size="10.6" font-style="italic" xml:space="preserve">ħk</text><text x="36.30" y="4.60" font-size="8.3" xml:space="preserve">L</text><text x="40.91" y="0.00" font-size="10.6" xml:space="preserve">)</text></g>
<g transform="translate(185.00,7.70)" font-family="Liberation Sans, sans-serif" fill="#262626"><text x="-31.63" y="0.00" font-size="10.6" xml:space="preserve">Force </text><path d="M0.22,-5.30  C-0.31,-6.57 1.07,-7.42 2.66,-7.21  C4.25,-7.00 5.31,-7.42 6.90,-7.63 M3.08,-7.21  C2.44,-4.24 1.60,-0.85 0.11,-0.11  C-0.52,0.21 -1.05,0.00 -1.16,-0.53 M1.91,-3.82  L5.41,-3.92" stroke="#262626" stroke-width="1.06" fill="none" stroke-linecap="round"/><text x="6.90" y="0.00" font-size="10.6" xml:space="preserve"> (</text><text x="13.37" y="0.00" font-size="10.6" font-style="italic" xml:space="preserve">Mg</text><text x="28.10" y="0.00" font-size="10.6" xml:space="preserve">)</text></g>
<g transform="translate(8.20,230.00) rotate(-90)" font-family="Liberation Sans, sans-serif" fill="#262626"><text x="-30.63" y="0.00" font-size="10.8" xml:space="preserve">Imbalance </text><path d="M24.58,-7.34  C25.98,-7.78 28.14,-7.13 30.19,-7.56 M27.82,-7.34  C27.17,-4.32 26.52,-1.62 26.09,0.00 M22.63,-0.22  C24.36,0.22 26.52,-0.43 28.90,0.00 M24.58,-7.34  C23.82,-7.13 23.71,-6.26 24.36,-6.05" stroke="#262626" stroke-width="1.08" fill="none" stroke-linecap="round"/></g>
<g transform="translate(355.60,83.30) rotate(-90)" font-family="Liberation Sans, sans-serif" fill="#262626"><text x="-49.88" y="0.00" font-size="10.6" xml:space="preserve">Magic Depth </text><text x="12.57" y="0.00" font-size="10.6" font-style="italic" xml:space="preserve">V</text><text x="19.64" y="4.60" font-size="8.3" xml:space="preserve">0</text><text x="19.64" y="-4.20" font-size="8.6" xml:space="preserve">M</text><text x="26.81" y="0.00" font-size="10.6" xml:space="preserve"> (</text><text x="33.28" y="0.00" font-size="10.6" font-style="italic" xml:space="preserve">E</text><text x="40.35" y="4.60" font-size="8.3" xml:space="preserve">R</text><text x="46.35" y="0.00" font-size="10.6" xml:space="preserve">)</text></g>
<g transform="translate(355.40,293.20) rotate(-90)" font-family="Liberation Sans, sans-serif" fill="#262626"><text x="-85.42" y="0.00" font-size="10.6" xml:space="preserve">Interference Fringe Frequency (kHz)</text></g>
<g transform="translate(679.50,290.80) rotate(-90)" font-family="Liberation Sans, sans-serif" fill="#262626"><text x="-80.14" y="0.00" font-size="10.6" xml:space="preserve">Force Response ∂</text><text x="5.82" y="0.00" font-size="10.6" font-style="italic" xml:space="preserve">ϕ</text><text x="11.71" y="4.60" font-size="8.3" xml:space="preserve">int</text><text x="20.48" y="0.00" font-size="10.6" xml:space="preserve">/∂</text><path d="M30.46,-5.30  C29.93,-6.57 31.31,-7.42 32.90,-7.21  C34.49,-7.00 35.55,-7.42 37.14,-7.63 M33.33,-7.21  C32.69,-4.24 31.84,-0.85 30.36,-0.11  C29.72,0.21 29.19,0.00 29.09,-0.53 M32.16,-3.82  L35.66,-3.92" stroke="#262626" stroke-width="1.06" fill="none" stroke-linecap="round"/><text x="37.14" y="0.00" font-size="10.6" xml:space="preserve"> (</text><text x="43.62" y="0.00" font-size="10.6" xml:space="preserve">rad/</text><text x="61.88" y="0.00" font-size="10.6" font-style="italic" xml:space="preserve">Mg</text><text x="76.61" y="0.00" font-size="10.6" xml:space="preserve">)</text></g>
</svg></body></html>
